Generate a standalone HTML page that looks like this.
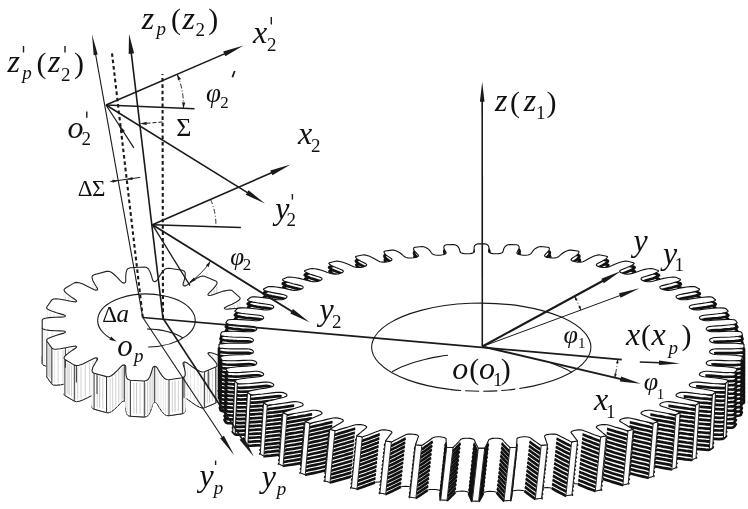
<!DOCTYPE html>
<html><head><meta charset="utf-8"><title>gear</title>
<style>html,body{margin:0;padding:0;background:#fff;}svg{display:block;filter:grayscale(1)}
text{font-family:"Liberation Serif",serif;fill:#111}</style></head><body>
<svg width="748" height="509" viewBox="0 0 748 509">
<rect width="748" height="509" fill="#fff"/>
<path d="M65.4 367.8 L64.8 367.3 L63.1 367 L60.2 366.9 L55 366.8 L49.3 366.4 L45.2 365.8 L43.1 365 L42.2 363.8 L42.2 356.2 L43.1 355 L45.2 354.2 L49.3 353.6 L55 353.2 L60.2 353.1 L63.1 353 L64.8 352.7 L65.4 352.2 L65.4 352.2 L65.2 351.6 L63.9 350.9 L61.2 350.1 L56.6 348.8 L51.6 347.1 L48.2 345.6 L46.7 344.3 L46.8 343 L51.8 335.9 L53.4 335 L56 334.8 L60.3 335.2 L65.8 336.2 L70.8 337.3 L73.7 337.8 L75.5 337.9 L76.4 337.6 L76.4 337.6 L76.6 337 L75.8 336 L73.9 334.7 L70.4 332.4 L66.8 329.6 L64.5 327.3 L64 325.8 L64.9 324.5 L74.3 318.9 L76.4 318.4 L79 318.7 L82.9 320.1 L87.7 322.4 L91.8 324.5 L94.2 325.7 L95.9 326.1 L97 326 L97 326 L97.6 325.5 L97.4 324.4 L96.4 322.7 L94.5 319.7 L92.7 316.2 L92 313.4 L92.4 311.8 L94.1 310.8 L106.5 307.4 L108.9 307.3 L111.3 308.3 L114.2 310.5 L117.5 313.6 L120.2 316.6 L121.8 318.2 L123.1 318.9 L124.3 319.1 L124.3 319.1 L125.2 318.6 L125.7 317.6 L125.8 315.7 L125.7 312.4 L126.1 308.7 L126.9 305.9 L128.2 304.4 L130.4 303.7 L144.3 303 L146.6 303.5 L148.3 304.8 L149.9 307.5 L151.3 311.2 L152.2 314.5 L152.8 316.3 L153.6 317.3 L154.7 317.6 L154.7 317.6 L155.8 317.4 L156.9 316.5 L158 314.7 L159.8 311.6 L162.2 308.1 L164.5 305.6 L166.6 304.5 L169 304.3 L182.4 306.3 L184.3 307.2 L185.2 308.8 L185.2 311.6 L184.5 315.3 L183.5 318.5 L183 320.3 L183.2 321.4 L184 321.9 L184 321.9 L185.2 321.9 L186.7 321.3 L188.7 319.9 L192.2 317.3 L196.3 314.5 L199.8 312.7 L202.3 312 L204.6 312.3 L215.7 316.9 L217 318.1 L216.9 319.7 L215.4 322.2 L212.7 325.4 L209.9 328.2 L208.4 329.7 L207.9 330.7 L208.3 331.3 L208.3 331.3 L209.4 331.5 L211.2 331.3 L213.8 330.4 L218.5 328.8 L223.7 327.1 L227.9 326.2 L230.5 326.1 L232.4 326.8 L239.7 333.3 L240.2 334.6 L239.2 336 L236.3 338 L232 340.2 L227.8 342.1 L225.5 343.2 L224.4 344 L224.4 344.6 L224.4 344.6 L225.2 345 L227 345.2 L229.9 344.9 L235.1 344.5 L240.8 344.1 L245.1 344.2 L247.5 344.7 L248.7 345.8 L251.3 353.3 L250.9 354.6 L249 355.6 L245.2 356.7 L239.8 357.7 L234.8 358.5 L232 358.9 L230.4 359.4 L230 360 L230 360 L230.4 360.6 L232 361.1 L234.8 361.5 L239.8 362.3 L245.2 363.3 L249 364.4 L250.9 365.4 L251.3 366.7 L248.7 374.2 L247.5 375.3 L245.1 375.8 L240.8 375.9 L235.1 375.5 L229.9 375.1 L227 374.8 L225.2 375 L224.4 375.4 L224.4 375.4 L224.4 376 L225.5 376.8 L227.8 377.9 L232 379.8 L236.3 382 L239.2 384 L240.2 385.4 L239.7 386.7 L232.4 393.2 L230.5 393.9 L227.9 393.8 L223.7 392.9 L218.5 391.2 L213.8 389.6 L211.2 388.7 L209.4 388.5 L208.3 388.7 L208.3 388.7 L207.9 389.3 L208.4 390.3 L209.9 391.8 L212.7 394.6 L215.4 397.8 L216.9 400.3 L217 401.9 L215.7 403.1 L204.6 407.7 L202.3 408 L199.8 407.3 L196.3 405.5 L192.2 402.7 L188.7 400.1 L186.7 398.7 L185.2 398.1 L184 398.1 L184 398.1 L183.2 398.6 L183 399.7 L183.5 401.5 L184.5 404.7 L185.2 408.4 L185.2 411.2 L184.3 412.8 L182.4 413.7 L169 415.7 L166.6 415.5 L164.5 414.4 L162.2 411.9 L159.8 408.4 L158 405.3 L156.9 403.5 L155.8 402.6 L154.7 402.4 L154.7 402.4 L153.6 402.7 L152.8 403.7 L152.2 405.5 L151.3 408.8 L149.9 412.5 L148.3 415.2 L146.6 416.5 L144.3 417 L130.4 416.3 L128.2 415.6 L126.9 414.1 L126.1 411.3 L125.7 407.6 L125.8 404.3 L125.7 402.4 L125.2 401.4 L124.3 400.9 L124.3 400.9 L123.1 401.1 L121.8 401.8 L120.2 403.4 L117.5 406.4 L114.2 409.5 L111.3 411.7 L108.9 412.7 L106.5 412.6 L94.1 409.2 L92.4 408.2 L92 406.6 L92.7 403.8 L94.5 400.3 L96.4 397.3 L97.4 395.6 L97.6 394.5 L97 394 L97 394 L95.9 393.9 L94.2 394.3 L91.8 395.5 L87.7 397.6 L82.9 399.9 L79 401.3 L76.4 401.6 L74.3 401.1 L64.9 395.5 L64 394.2 L64.5 392.7 L66.8 390.4 L70.4 387.6 L73.9 385.3 L75.8 384 L76.6 383 L76.4 382.4 L76.4 382.4 L75.5 382.1 L73.7 382.2 L70.8 382.7 L65.8 383.8 L60.3 384.8 L56 385.2 L53.4 385 L51.8 384.1 L46.8 377 L46.7 375.7 L48.2 374.4 L51.6 372.9 L56.6 371.2 L61.2 369.9 L63.9 369.1 L65.2 368.4 L65.4 367.8Z" fill="#fff" stroke="#222" stroke-width="1"/>
<path d="M185.2 275.6 L184.5 279.3 L184.5 315.3 L185.2 311.6Z" fill="#fff" stroke="#fff" stroke-width="0.5"/>
<path d="M185.2 311.6 L184.5 315.3" stroke="#222" stroke-width="1" fill="none"/>
<path d="M184.9 279.4 v32" stroke="#c4c4c4" stroke-width="0.8" fill="none"/>
<path d="M125.8 279.7 L125.7 276.4 L125.7 312.4 L125.8 315.7Z" fill="#fff" stroke="#fff" stroke-width="0.5"/>
<path d="M125.8 315.7 L125.7 312.4" stroke="#222" stroke-width="1" fill="none"/>
<path d="M125.8 280.1 v32" stroke="#e0e0e0" stroke-width="0.8" fill="none"/>
<path d="M92.7 280.2 L92 277.4 L92 313.4 L92.7 316.2Z" fill="#fff" stroke="#fff" stroke-width="0.5"/>
<path d="M92.7 316.2 L92 313.4" stroke="#222" stroke-width="1" fill="none"/>
<path d="M92.4 280.8 v32" stroke="#e0e0e0" stroke-width="0.8" fill="none"/>
<path d="M184.5 279.3 L183.5 282.5 L183.5 318.5 L184.5 315.3Z" fill="#fff" stroke="#fff" stroke-width="0.5"/>
<path d="M184.5 315.3 L183.5 318.5" stroke="#222" stroke-width="1" fill="none"/>
<path d="M184 282.9 v32" stroke="#c4c4c4" stroke-width="0.8" fill="none"/>
<path d="M94.5 283.7 L92.7 280.2 L92.7 316.2 L94.5 319.7Z" fill="#fff" stroke="#fff" stroke-width="0.5"/>
<path d="M94.5 319.7 L92.7 316.2" stroke="#222" stroke-width="1" fill="none"/>
<path d="M93.6 283.9 v32" stroke="#e0e0e0" stroke-width="0.8" fill="none"/>
<path d="M217 282.1 L216.9 283.7 L216.9 319.7 L217 318.1Z" fill="#fff" stroke="#fff" stroke-width="0.5"/>
<path d="M217 318.1 L216.9 319.7" stroke="#222" stroke-width="1" fill="none"/>
<path d="M217 284.9 v32" stroke="#c4c4c4" stroke-width="0.8" fill="none"/>
<path d="M183.5 282.5 L183 284.3 L183 320.3 L183.5 318.5Z" fill="#fff" stroke="#fff" stroke-width="0.5"/>
<path d="M183.5 318.5 L183 320.3" stroke="#222" stroke-width="1" fill="none"/>
<path d="M183.3 285.4 v32" stroke="#c4c4c4" stroke-width="0.8" fill="none"/>
<path d="M216.9 283.7 L215.4 286.2 L215.4 322.2 L216.9 319.7Z" fill="#fff" stroke="#fff" stroke-width="0.5"/>
<path d="M216.9 319.7 L215.4 322.2" stroke="#222" stroke-width="1" fill="none"/>
<path d="M216.2 287 v32" stroke="#c4c4c4" stroke-width="0.8" fill="none"/>
<path d="M96.4 286.7 L94.5 283.7 L94.5 319.7 L96.4 322.7Z" fill="#fff" stroke="#fff" stroke-width="0.5"/>
<path d="M96.4 322.7 L94.5 319.7" stroke="#222" stroke-width="1" fill="none"/>
<path d="M95.5 287.2 v32" stroke="#e0e0e0" stroke-width="0.8" fill="none"/>
<path d="M97.4 288.4 L96.4 286.7 L96.4 322.7 L97.4 324.4Z" fill="#fff" stroke="#fff" stroke-width="0.5"/>
<path d="M97.4 324.4 L96.4 322.7" stroke="#222" stroke-width="1" fill="none"/>
<path d="M96.9 289.6 v32" stroke="#e0e0e0" stroke-width="0.8" fill="none"/>
<path d="M215.4 286.2 L212.7 289.4 L212.7 325.4 L215.4 322.2Z" fill="#fff" stroke="#fff" stroke-width="0.5"/>
<path d="M215.4 322.2 L212.7 325.4" stroke="#222" stroke-width="1" fill="none"/>
<path d="M214.1 289.8 v32" stroke="#c4c4c4" stroke-width="0.8" fill="none"/>
<path d="M97.6 289.5 L97.4 288.4 L97.4 324.4 L97.6 325.5Z" fill="#fff" stroke="#fff" stroke-width="0.5"/>
<path d="M97.6 325.5 L97.4 324.4" stroke="#222" stroke-width="1" fill="none"/>
<path d="M97.5 290.9 v32" stroke="#e0e0e0" stroke-width="0.8" fill="none"/>
<path d="M64.5 291.3 L64 289.8 L64 325.8 L64.5 327.3Z" fill="#fff" stroke="#fff" stroke-width="0.5"/>
<path d="M64.5 327.3 L64 325.8" stroke="#222" stroke-width="1" fill="none"/>
<path d="M64.2 292.5 v32" stroke="#e0e0e0" stroke-width="0.8" fill="none"/>
<path d="M212.7 289.4 L209.9 292.2 L209.9 328.2 L212.7 325.4Z" fill="#fff" stroke="#fff" stroke-width="0.5"/>
<path d="M212.7 325.4 L209.9 328.2" stroke="#222" stroke-width="1" fill="none"/>
<path d="M211.3 292.8 v32" stroke="#c4c4c4" stroke-width="0.8" fill="none"/>
<path d="M66.8 293.6 L64.5 291.3 L64.5 327.3 L66.8 329.6Z" fill="#fff" stroke="#fff" stroke-width="0.5"/>
<path d="M66.8 329.6 L64.5 327.3" stroke="#222" stroke-width="1" fill="none"/>
<path d="M65.6 294.5 v32" stroke="#e0e0e0" stroke-width="0.8" fill="none"/>
<path d="M209.9 292.2 L208.4 293.7 L208.4 329.7 L209.9 328.2Z" fill="#fff" stroke="#fff" stroke-width="0.5"/>
<path d="M209.9 328.2 L208.4 329.7" stroke="#222" stroke-width="1" fill="none"/>
<path d="M209.2 294.9 v32" stroke="#c4c4c4" stroke-width="0.8" fill="none"/>
<path d="M208.4 293.7 L207.9 294.7 L207.9 330.7 L208.4 329.7Z" fill="#fff" stroke="#fff" stroke-width="0.5"/>
<path d="M208.4 329.7 L207.9 330.7" stroke="#222" stroke-width="1" fill="none"/>
<path d="M208.2 296.2 v32" stroke="#c4c4c4" stroke-width="0.8" fill="none"/>
<path d="M70.4 296.4 L66.8 293.6 L66.8 329.6 L70.4 332.4Z" fill="#fff" stroke="#fff" stroke-width="0.5"/>
<path d="M70.4 332.4 L66.8 329.6" stroke="#222" stroke-width="1" fill="none"/>
<path d="M68.6 297 v32" stroke="#e0e0e0" stroke-width="0.8" fill="none"/>
<path d="M73.9 298.7 L70.4 296.4 L70.4 332.4 L73.9 334.7Z" fill="#fff" stroke="#fff" stroke-width="0.5"/>
<path d="M73.9 334.7 L70.4 332.4" stroke="#222" stroke-width="1" fill="none"/>
<path d="M72.1 299.5 v32" stroke="#e0e0e0" stroke-width="0.8" fill="none"/>
<path d="M240.2 298.6 L239.2 300 L239.2 336 L240.2 334.6Z" fill="#fff" stroke="#fff" stroke-width="0.5"/>
<path d="M240.2 334.6 L239.2 336" stroke="#222" stroke-width="1" fill="none"/>
<path d="M239.7 301.3 v32" stroke="#c4c4c4" stroke-width="0.8" fill="none"/>
<path d="M75.8 300 L73.9 298.7 L73.9 334.7 L75.8 336Z" fill="#fff" stroke="#fff" stroke-width="0.5"/>
<path d="M75.8 336 L73.9 334.7" stroke="#222" stroke-width="1" fill="none"/>
<path d="M74.9 301.4 v32" stroke="#e0e0e0" stroke-width="0.8" fill="none"/>
<path d="M76.6 301 L75.8 300 L75.8 336 L76.6 337Z" fill="#fff" stroke="#fff" stroke-width="0.5"/>
<path d="M76.6 337 L75.8 336" stroke="#222" stroke-width="1" fill="none"/>
<path d="M76.2 302.5 v32" stroke="#e0e0e0" stroke-width="0.8" fill="none"/>
<path d="M239.2 300 L236.3 302 L236.3 338 L239.2 336Z" fill="#fff" stroke="#fff" stroke-width="0.5"/>
<path d="M239.2 336 L236.3 338" stroke="#222" stroke-width="1" fill="none"/>
<path d="M237.8 303 v32" stroke="#c4c4c4" stroke-width="0.8" fill="none"/>
<path d="M236.3 302 L232 304.2 L232 340.2 L236.3 338Z" fill="#fff" stroke="#fff" stroke-width="0.5"/>
<path d="M236.3 338 L232 340.2" stroke="#222" stroke-width="1" fill="none"/>
<path d="M234.2 305.1 v32" stroke="#c4c4c4" stroke-width="0.8" fill="none"/>
<path d="M232 304.2 L227.8 306.1 L227.8 342.1 L232 340.2Z" fill="#fff" stroke="#fff" stroke-width="0.5"/>
<path d="M232 340.2 L227.8 342.1" stroke="#222" stroke-width="1" fill="none"/>
<path d="M229.9 307.2 v32" stroke="#c4c4c4" stroke-width="0.8" fill="none"/>
<path d="M227.8 306.1 L225.5 307.2 L225.5 343.2 L227.8 342.1Z" fill="#fff" stroke="#fff" stroke-width="0.5"/>
<path d="M227.8 342.1 L225.5 343.2" stroke="#222" stroke-width="1" fill="none"/>
<path d="M226.6 308.7 v32" stroke="#c4c4c4" stroke-width="0.8" fill="none"/>
<path d="M225.5 307.2 L224.4 308 L224.4 344 L225.5 343.2Z" fill="#fff" stroke="#fff" stroke-width="0.5"/>
<path d="M225.5 343.2 L224.4 344" stroke="#222" stroke-width="1" fill="none"/>
<path d="M224.9 309.6 v32" stroke="#c4c4c4" stroke-width="0.8" fill="none"/>
<path d="M224.4 308 L224.4 308.6 L224.4 344.6 L224.4 344Z" fill="#fff" stroke="#fff" stroke-width="0.5"/>
<path d="M224.4 344 L224.4 344.6" stroke="#222" stroke-width="1" fill="none"/>
<path d="M224.4 310.3 v32" stroke="#c4c4c4" stroke-width="0.8" fill="none"/>
<path d="M48.2 309.6 L46.7 308.3 L46.7 344.3 L48.2 345.6Z" fill="#fff" stroke="#fff" stroke-width="0.5"/>
<path d="M48.2 345.6 L46.7 344.3" stroke="#222" stroke-width="1" fill="none"/>
<path d="M47.5 311 v32" stroke="#e0e0e0" stroke-width="0.8" fill="none"/>
<path d="M51.6 311.1 L48.2 309.6 L48.2 345.6 L51.6 347.1Z" fill="#fff" stroke="#fff" stroke-width="0.5"/>
<path d="M51.6 347.1 L48.2 345.6" stroke="#222" stroke-width="1" fill="none"/>
<path d="M49.9 312.4 v32" stroke="#e0e0e0" stroke-width="0.8" fill="none"/>
<path d="M56.6 312.8 L51.6 311.1 L51.6 347.1 L56.6 348.8Z" fill="#fff" stroke="#fff" stroke-width="0.5"/>
<path d="M56.6 348.8 L51.6 347.1" stroke="#222" stroke-width="1" fill="none"/>
<path d="M54.1 314 v32" stroke="#e0e0e0" stroke-width="0.8" fill="none"/>
<path d="M61.2 314.1 L56.6 312.8 L56.6 348.8 L61.2 350.1Z" fill="#fff" stroke="#fff" stroke-width="0.5"/>
<path d="M61.2 350.1 L56.6 348.8" stroke="#222" stroke-width="1" fill="none"/>
<path d="M58.9 315.5 v32" stroke="#e0e0e0" stroke-width="0.8" fill="none"/>
<path d="M63.9 314.9 L61.2 314.1 L61.2 350.1 L63.9 350.9Z" fill="#fff" stroke="#fff" stroke-width="0.5"/>
<path d="M63.9 350.9 L61.2 350.1" stroke="#222" stroke-width="1" fill="none"/>
<path d="M62.6 316.5 v32" stroke="#e0e0e0" stroke-width="0.8" fill="none"/>
<path d="M65.2 315.6 L63.9 314.9 L63.9 350.9 L65.2 351.6Z" fill="#fff" stroke="#fff" stroke-width="0.5"/>
<path d="M65.2 351.6 L63.9 350.9" stroke="#222" stroke-width="1" fill="none"/>
<path d="M64.5 317.3 v32" stroke="#e0e0e0" stroke-width="0.8" fill="none"/>
<path d="M65.4 316.2 L65.2 315.6 L65.2 351.6 L65.4 352.2Z" fill="#fff" stroke="#fff" stroke-width="0.5"/>
<path d="M65.4 352.2 L65.2 351.6" stroke="#222" stroke-width="1" fill="none"/>
<path d="M65.3 317.9 v32" stroke="#e0e0e0" stroke-width="0.8" fill="none"/>
<path d="M251.3 317.3 L250.9 318.6 L250.9 354.6 L251.3 353.3Z" fill="#fff" stroke="#fff" stroke-width="0.5"/>
<path d="M251.3 353.3 L250.9 354.6" stroke="#222" stroke-width="1" fill="none"/>
<path d="M251.1 319.9 v32" stroke="#c4c4c4" stroke-width="0.8" fill="none"/>
<path d="M250.9 318.6 L249 319.6 L249 355.6 L250.9 354.6Z" fill="#fff" stroke="#fff" stroke-width="0.5"/>
<path d="M250.9 354.6 L249 355.6" stroke="#222" stroke-width="1" fill="none"/>
<path d="M249.9 321.1 v32" stroke="#c4c4c4" stroke-width="0.8" fill="none"/>
<path d="M249 319.6 L245.2 320.7 L245.2 356.7 L249 355.6Z" fill="#fff" stroke="#fff" stroke-width="0.5"/>
<path d="M249 355.6 L245.2 356.7" stroke="#222" stroke-width="1" fill="none"/>
<path d="M247.1 322.2 v32" stroke="#c4c4c4" stroke-width="0.8" fill="none"/>
<path d="M245.2 320.7 L239.8 321.7 L239.8 357.7 L245.2 356.7Z" fill="#fff" stroke="#fff" stroke-width="0.5"/>
<path d="M245.2 356.7 L239.8 357.7" stroke="#222" stroke-width="1" fill="none"/>
<path d="M242.5 323.2 v32" stroke="#c4c4c4" stroke-width="0.8" fill="none"/>
<path d="M239.8 321.7 L234.8 322.5 L234.8 358.5 L239.8 357.7Z" fill="#fff" stroke="#fff" stroke-width="0.5"/>
<path d="M239.8 357.7 L234.8 358.5" stroke="#222" stroke-width="1" fill="none"/>
<path d="M237.3 324.1 v32" stroke="#c4c4c4" stroke-width="0.8" fill="none"/>
<path d="M234.8 322.5 L232 322.9 L232 358.9 L234.8 358.5Z" fill="#fff" stroke="#fff" stroke-width="0.5"/>
<path d="M234.8 358.5 L232 358.9" stroke="#222" stroke-width="1" fill="none"/>
<path d="M233.4 324.7 v32" stroke="#c4c4c4" stroke-width="0.8" fill="none"/>
<path d="M232 322.9 L230.4 323.4 L230.4 359.4 L232 358.9Z" fill="#fff" stroke="#fff" stroke-width="0.5"/>
<path d="M232 358.9 L230.4 359.4" stroke="#222" stroke-width="1" fill="none"/>
<path d="M231.2 325.2 v32" stroke="#c4c4c4" stroke-width="0.8" fill="none"/>
<path d="M230.4 323.4 L230 324 L230 360 L230.4 359.4Z" fill="#fff" stroke="#fff" stroke-width="0.5"/>
<path d="M230.4 359.4 L230 360" stroke="#222" stroke-width="1" fill="none"/>
<path d="M230.2 325.7 v32" stroke="#c4c4c4" stroke-width="0.8" fill="none"/>
<path d="M43.1 329 L42.2 327.8 L42.2 363.8 L43.1 365Z" fill="#fff" stroke="#fff" stroke-width="0.5"/>
<path d="M43.1 365 L42.2 363.8" stroke="#222" stroke-width="1" fill="none"/>
<path d="M42.7 330.4 v32" stroke="#e0e0e0" stroke-width="0.8" fill="none"/>
<path d="M45.2 329.8 L43.1 329 L43.1 365 L45.2 365.8Z" fill="#fff" stroke="#fff" stroke-width="0.5"/>
<path d="M45.2 365.8 L43.1 365" stroke="#222" stroke-width="1" fill="none"/>
<path d="M44.1 331.4 v32" stroke="#e0e0e0" stroke-width="0.8" fill="none"/>
<path d="M49.3 330.4 L45.2 329.8 L45.2 365.8 L49.3 366.4Z" fill="#fff" stroke="#fff" stroke-width="0.5"/>
<path d="M49.3 366.4 L45.2 365.8" stroke="#222" stroke-width="1" fill="none"/>
<path d="M47.3 332.1 v32" stroke="#e0e0e0" stroke-width="0.8" fill="none"/>
<path d="M55 330.8 L49.3 330.4 L49.3 366.4 L55 366.8Z" fill="#fff" stroke="#fff" stroke-width="0.5"/>
<path d="M55 366.8 L49.3 366.4" stroke="#222" stroke-width="1" fill="none"/>
<path d="M52.2 332.6 v32" stroke="#e0e0e0" stroke-width="0.8" fill="none"/>
<path d="M60.2 330.9 L55 330.8 L55 366.8 L60.2 366.9Z" fill="#fff" stroke="#fff" stroke-width="0.5"/>
<path d="M60.2 366.9 L55 366.8" stroke="#222" stroke-width="1" fill="none"/>
<path d="M57.6 332.8 v32" stroke="#e0e0e0" stroke-width="0.8" fill="none"/>
<path d="M63.1 331 L60.2 330.9 L60.2 366.9 L63.1 367Z" fill="#fff" stroke="#fff" stroke-width="0.5"/>
<path d="M63.1 367 L60.2 366.9" stroke="#222" stroke-width="1" fill="none"/>
<path d="M61.6 333 v32" stroke="#e0e0e0" stroke-width="0.8" fill="none"/>
<path d="M64.8 331.3 L63.1 331 L63.1 367 L64.8 367.3Z" fill="#fff" stroke="#fff" stroke-width="0.5"/>
<path d="M64.8 367.3 L63.1 367" stroke="#222" stroke-width="1" fill="none"/>
<path d="M64 333.2 v32" stroke="#e0e0e0" stroke-width="0.8" fill="none"/>
<path d="M65.4 331.8 L64.8 331.3 L64.8 367.3 L65.4 367.8Z" fill="#fff" stroke="#fff" stroke-width="0.5"/>
<path d="M65.4 367.8 L64.8 367.3" stroke="#222" stroke-width="1" fill="none"/>
<path d="M65.1 333.6 v32" stroke="#e0e0e0" stroke-width="0.8" fill="none"/>
<path d="M251.3 330.7 L248.7 338.2 L248.7 374.2 L251.3 366.7Z" fill="#fff" stroke="#fff" stroke-width="0.5"/>
<path d="M251.3 366.7 L248.7 374.2" stroke="#222" stroke-width="1" fill="none"/>
<path d="M250.5 335 v31" stroke="#ccc" stroke-width="0.9" fill="none"/>
<path d="M249.9 336.8 v31" stroke="#bbb" stroke-width="0.9" fill="none"/>
<path d="M249.3 338.3 v31" stroke="#ccc" stroke-width="0.9" fill="none"/>
<path d="M227 338.8 L225.2 339 L225.2 375 L227 374.8Z" fill="#fff" stroke="#fff" stroke-width="0.5"/>
<path d="M227 374.8 L225.2 375" stroke="#222" stroke-width="1" fill="none"/>
<path d="M226.1 340.9 v32" stroke="#c4c4c4" stroke-width="0.8" fill="none"/>
<path d="M229.9 339.1 L227 338.8 L227 374.8 L229.9 375.1Z" fill="#fff" stroke="#fff" stroke-width="0.5"/>
<path d="M229.9 375.1 L227 374.8" stroke="#222" stroke-width="1" fill="none"/>
<path d="M228.4 340.9 v32" stroke="#e0e0e0" stroke-width="0.8" fill="none"/>
<path d="M248.7 338.2 L247.5 339.3 L247.5 375.3 L248.7 374.2Z" fill="#fff" stroke="#fff" stroke-width="0.5"/>
<path d="M248.7 374.2 L247.5 375.3" stroke="#222" stroke-width="1" fill="none"/>
<path d="M248.1 340.7 v32" stroke="#c4c4c4" stroke-width="0.8" fill="none"/>
<path d="M225.2 339 L224.4 339.4 L224.4 375.4 L225.2 375Z" fill="#fff" stroke="#fff" stroke-width="0.5"/>
<path d="M225.2 375 L224.4 375.4" stroke="#222" stroke-width="1" fill="none"/>
<path d="M224.8 341.2 v32" stroke="#c4c4c4" stroke-width="0.8" fill="none"/>
<path d="M235.1 339.5 L229.9 339.1 L229.9 375.1 L235.1 375.5Z" fill="#fff" stroke="#fff" stroke-width="0.5"/>
<path d="M235.1 375.5 L229.9 375.1" stroke="#222" stroke-width="1" fill="none"/>
<path d="M232.5 341.3 v32" stroke="#e0e0e0" stroke-width="0.8" fill="none"/>
<path d="M247.5 339.3 L245.1 339.8 L245.1 375.8 L247.5 375.3Z" fill="#fff" stroke="#fff" stroke-width="0.5"/>
<path d="M247.5 375.3 L245.1 375.8" stroke="#222" stroke-width="1" fill="none"/>
<path d="M246.3 341.5 v32" stroke="#c4c4c4" stroke-width="0.8" fill="none"/>
<path d="M245.1 339.8 L240.8 339.9 L240.8 375.9 L245.1 375.8Z" fill="#fff" stroke="#fff" stroke-width="0.5"/>
<path d="M245.1 375.8 L240.8 375.9" stroke="#222" stroke-width="1" fill="none"/>
<path d="M242.9 341.8 v32" stroke="#c4c4c4" stroke-width="0.8" fill="none"/>
<path d="M240.8 339.9 L235.1 339.5 L235.1 375.5 L240.8 375.9Z" fill="#fff" stroke="#fff" stroke-width="0.5"/>
<path d="M240.8 375.9 L235.1 375.5" stroke="#222" stroke-width="1" fill="none"/>
<path d="M237.9 341.7 v32" stroke="#e0e0e0" stroke-width="0.8" fill="none"/>
<path d="M46.8 341 L46.7 339.7 L46.7 375.7 L46.8 377Z" fill="#fff" stroke="#fff" stroke-width="0.5"/>
<path d="M46.8 377 L46.7 375.7" stroke="#222" stroke-width="1" fill="none"/>
<path d="M46.8 342.3 v32" stroke="#e0e0e0" stroke-width="0.8" fill="none"/>
<path d="M75.5 346.1 L73.7 346.2 L73.7 382.2 L75.5 382.1Z" fill="#fff" stroke="#fff" stroke-width="0.5"/>
<path d="M75.5 382.1 L73.7 382.2" stroke="#222" stroke-width="1" fill="none"/>
<path d="M74.6 348.1 v32" stroke="#c4c4c4" stroke-width="0.8" fill="none"/>
<path d="M76.4 346.4 L75.5 346.1 L75.5 382.1 L76.4 382.4Z" fill="#fff" stroke="#fff" stroke-width="0.5"/>
<path d="M76.4 382.4 L75.5 382.1" stroke="#222" stroke-width="1" fill="none"/>
<path d="M76 348.2 v32" stroke="#e0e0e0" stroke-width="0.8" fill="none"/>
<path d="M73.7 346.2 L70.8 346.7 L70.8 382.7 L73.7 382.2Z" fill="#fff" stroke="#fff" stroke-width="0.5"/>
<path d="M73.7 382.2 L70.8 382.7" stroke="#222" stroke-width="1" fill="none"/>
<path d="M72.3 348.4 v32" stroke="#c4c4c4" stroke-width="0.8" fill="none"/>
<path d="M76.6 347 L76.4 346.4 L76.4 382.4 L76.6 383Z" fill="#fff" stroke="#fff" stroke-width="0.5"/>
<path d="M76.6 383 L76.4 382.4" stroke="#222" stroke-width="1" fill="none"/>
<path d="M76.5 348.7 v32" stroke="#e0e0e0" stroke-width="0.8" fill="none"/>
<path d="M70.8 346.7 L65.8 347.8 L65.8 383.8 L70.8 382.7Z" fill="#fff" stroke="#fff" stroke-width="0.5"/>
<path d="M70.8 382.7 L65.8 383.8" stroke="#222" stroke-width="1" fill="none"/>
<path d="M68.3 349.3 v32" stroke="#c4c4c4" stroke-width="0.8" fill="none"/>
<path d="M51.8 348.1 L46.8 341 L46.8 377 L51.8 384.1Z" fill="#fff" stroke="#fff" stroke-width="0.5"/>
<path d="M51.8 384.1 L46.8 377" stroke="#222" stroke-width="1" fill="none"/>
<path d="M50.3 348 v31" stroke="#ccc" stroke-width="0.9" fill="none"/>
<path d="M49.1 346.2 v31" stroke="#bbb" stroke-width="0.9" fill="none"/>
<path d="M48 344.8 v31" stroke="#ccc" stroke-width="0.9" fill="none"/>
<path d="M65.8 347.8 L60.3 348.8 L60.3 384.8 L65.8 383.8Z" fill="#fff" stroke="#fff" stroke-width="0.5"/>
<path d="M65.8 383.8 L60.3 384.8" stroke="#222" stroke-width="1" fill="none"/>
<path d="M63 350.3 v32" stroke="#c4c4c4" stroke-width="0.8" fill="none"/>
<path d="M53.4 349 L51.8 348.1 L51.8 384.1 L53.4 385Z" fill="#fff" stroke="#fff" stroke-width="0.5"/>
<path d="M53.4 385 L51.8 384.1" stroke="#222" stroke-width="1" fill="none"/>
<path d="M52.6 350.5 v32" stroke="#e0e0e0" stroke-width="0.8" fill="none"/>
<path d="M60.3 348.8 L56 349.2 L56 385.2 L60.3 384.8Z" fill="#fff" stroke="#fff" stroke-width="0.5"/>
<path d="M60.3 384.8 L56 385.2" stroke="#222" stroke-width="1" fill="none"/>
<path d="M58.1 351 v32" stroke="#c4c4c4" stroke-width="0.8" fill="none"/>
<path d="M56 349.2 L53.4 349 L53.4 385 L56 385.2Z" fill="#fff" stroke="#fff" stroke-width="0.5"/>
<path d="M56 385.2 L53.4 385" stroke="#222" stroke-width="1" fill="none"/>
<path d="M54.7 351.1 v32" stroke="#e0e0e0" stroke-width="0.8" fill="none"/>
<path d="M240.2 349.4 L239.7 350.7 L239.7 386.7 L240.2 385.4Z" fill="#fff" stroke="#fff" stroke-width="0.5"/>
<path d="M240.2 385.4 L239.7 386.7" stroke="#222" stroke-width="1" fill="none"/>
<path d="M240 352.1 v32" stroke="#c4c4c4" stroke-width="0.8" fill="none"/>
<path d="M209.4 352.5 L208.3 352.7 L208.3 388.7 L209.4 388.5Z" fill="#fff" stroke="#fff" stroke-width="0.5"/>
<path d="M209.4 388.5 L208.3 388.7" stroke="#222" stroke-width="1" fill="none"/>
<path d="M208.9 354.6 v32" stroke="#c4c4c4" stroke-width="0.8" fill="none"/>
<path d="M211.2 352.7 L209.4 352.5 L209.4 388.5 L211.2 388.7Z" fill="#fff" stroke="#fff" stroke-width="0.5"/>
<path d="M211.2 388.7 L209.4 388.5" stroke="#222" stroke-width="1" fill="none"/>
<path d="M210.3 354.6 v32" stroke="#e0e0e0" stroke-width="0.8" fill="none"/>
<path d="M208.3 352.7 L207.9 353.3 L207.9 389.3 L208.3 388.7Z" fill="#fff" stroke="#fff" stroke-width="0.5"/>
<path d="M208.3 388.7 L207.9 389.3" stroke="#222" stroke-width="1" fill="none"/>
<path d="M208.1 355 v32" stroke="#c4c4c4" stroke-width="0.8" fill="none"/>
<path d="M213.8 353.6 L211.2 352.7 L211.2 388.7 L213.8 389.6Z" fill="#fff" stroke="#fff" stroke-width="0.5"/>
<path d="M213.8 389.6 L211.2 388.7" stroke="#222" stroke-width="1" fill="none"/>
<path d="M212.5 355.2 v32" stroke="#e0e0e0" stroke-width="0.8" fill="none"/>
<path d="M218.5 355.2 L213.8 353.6 L213.8 389.6 L218.5 391.2Z" fill="#fff" stroke="#fff" stroke-width="0.5"/>
<path d="M218.5 391.2 L213.8 389.6" stroke="#222" stroke-width="1" fill="none"/>
<path d="M216.2 356.4 v32" stroke="#e0e0e0" stroke-width="0.8" fill="none"/>
<path d="M223.7 356.9 L218.5 355.2 L218.5 391.2 L223.7 392.9Z" fill="#fff" stroke="#fff" stroke-width="0.5"/>
<path d="M223.7 392.9 L218.5 391.2" stroke="#222" stroke-width="1" fill="none"/>
<path d="M221.1 358.1 v32" stroke="#e0e0e0" stroke-width="0.8" fill="none"/>
<path d="M239.7 350.7 L232.4 357.2 L232.4 393.2 L239.7 386.7Z" fill="#fff" stroke="#fff" stroke-width="0.5"/>
<path d="M239.7 386.7 L232.4 393.2" stroke="#222" stroke-width="1" fill="none"/>
<path d="M237.5 354.7 v31" stroke="#ccc" stroke-width="0.9" fill="none"/>
<path d="M235.7 356.3 v31" stroke="#bbb" stroke-width="0.9" fill="none"/>
<path d="M234.2 357.6 v31" stroke="#ccc" stroke-width="0.9" fill="none"/>
<path d="M227.9 357.8 L223.7 356.9 L223.7 392.9 L227.9 393.8Z" fill="#fff" stroke="#fff" stroke-width="0.5"/>
<path d="M227.9 393.8 L223.7 392.9" stroke="#222" stroke-width="1" fill="none"/>
<path d="M225.8 359.4 v32" stroke="#e0e0e0" stroke-width="0.8" fill="none"/>
<path d="M232.4 357.2 L230.5 357.9 L230.5 393.9 L232.4 393.2Z" fill="#fff" stroke="#fff" stroke-width="0.5"/>
<path d="M232.4 393.2 L230.5 393.9" stroke="#222" stroke-width="1" fill="none"/>
<path d="M231.4 359.5 v32" stroke="#c4c4c4" stroke-width="0.8" fill="none"/>
<path d="M230.5 357.9 L227.9 357.8 L227.9 393.8 L230.5 393.9Z" fill="#fff" stroke="#fff" stroke-width="0.5"/>
<path d="M230.5 393.9 L227.9 393.8" stroke="#222" stroke-width="1" fill="none"/>
<path d="M229.2 359.9 v32" stroke="#e0e0e0" stroke-width="0.8" fill="none"/>
<path d="M97 358 L95.9 357.9 L95.9 393.9 L97 394Z" fill="#fff" stroke="#fff" stroke-width="0.5"/>
<path d="M97 394 L95.9 393.9" stroke="#222" stroke-width="1" fill="none"/>
<path d="M96.4 359.9 v32" stroke="#e0e0e0" stroke-width="0.8" fill="none"/>
<path d="M95.9 357.9 L94.2 358.3 L94.2 394.3 L95.9 393.9Z" fill="#fff" stroke="#fff" stroke-width="0.5"/>
<path d="M95.9 393.9 L94.2 394.3" stroke="#222" stroke-width="1" fill="none"/>
<path d="M95 360.1 v32" stroke="#c4c4c4" stroke-width="0.8" fill="none"/>
<path d="M97.6 358.5 L97 358 L97 394 L97.6 394.5Z" fill="#fff" stroke="#fff" stroke-width="0.5"/>
<path d="M97.6 394.5 L97 394" stroke="#222" stroke-width="1" fill="none"/>
<path d="M97.3 360.2 v32" stroke="#e0e0e0" stroke-width="0.8" fill="none"/>
<path d="M94.2 358.3 L91.8 359.5 L91.8 395.5 L94.2 394.3Z" fill="#fff" stroke="#fff" stroke-width="0.5"/>
<path d="M94.2 394.3 L91.8 395.5" stroke="#222" stroke-width="1" fill="none"/>
<path d="M93 360.9 v32" stroke="#c4c4c4" stroke-width="0.8" fill="none"/>
<path d="M64.9 359.5 L64 358.2 L64 394.2 L64.9 395.5Z" fill="#fff" stroke="#fff" stroke-width="0.5"/>
<path d="M64.9 395.5 L64 394.2" stroke="#222" stroke-width="1" fill="none"/>
<path d="M64.4 360.9 v32" stroke="#e0e0e0" stroke-width="0.8" fill="none"/>
<path d="M91.8 359.5 L87.7 361.6 L87.7 397.6 L91.8 395.5Z" fill="#fff" stroke="#fff" stroke-width="0.5"/>
<path d="M91.8 395.5 L87.7 397.6" stroke="#222" stroke-width="1" fill="none"/>
<path d="M89.7 362.5 v32" stroke="#c4c4c4" stroke-width="0.8" fill="none"/>
<path d="M185.2 362.1 L184 362.1 L184 398.1 L185.2 398.1Z" fill="#fff" stroke="#fff" stroke-width="0.5"/>
<path d="M185.2 398.1 L184 398.1" stroke="#222" stroke-width="1" fill="none"/>
<path d="M184.6 364.1 v32" stroke="#c4c4c4" stroke-width="0.8" fill="none"/>
<path d="M184 362.1 L183.2 362.6 L183.2 398.6 L184 398.1Z" fill="#fff" stroke="#fff" stroke-width="0.5"/>
<path d="M184 398.1 L183.2 398.6" stroke="#222" stroke-width="1" fill="none"/>
<path d="M183.6 364.3 v32" stroke="#c4c4c4" stroke-width="0.8" fill="none"/>
<path d="M186.7 362.7 L185.2 362.1 L185.2 398.1 L186.7 398.7Z" fill="#fff" stroke="#fff" stroke-width="0.5"/>
<path d="M186.7 398.7 L185.2 398.1" stroke="#222" stroke-width="1" fill="none"/>
<path d="M185.9 364.4 v32" stroke="#e0e0e0" stroke-width="0.8" fill="none"/>
<path d="M183.2 362.6 L183 363.7 L183 399.7 L183.2 398.6Z" fill="#fff" stroke="#fff" stroke-width="0.5"/>
<path d="M183.2 398.6 L183 399.7" stroke="#222" stroke-width="1" fill="none"/>
<path d="M183.1 365.1 v32" stroke="#c4c4c4" stroke-width="0.8" fill="none"/>
<path d="M87.7 361.6 L82.9 363.9 L82.9 399.9 L87.7 397.6Z" fill="#fff" stroke="#fff" stroke-width="0.5"/>
<path d="M87.7 397.6 L82.9 399.9" stroke="#222" stroke-width="1" fill="none"/>
<path d="M85.3 364.7 v32" stroke="#c4c4c4" stroke-width="0.8" fill="none"/>
<path d="M188.7 364.1 L186.7 362.7 L186.7 398.7 L188.7 400.1Z" fill="#fff" stroke="#fff" stroke-width="0.5"/>
<path d="M188.7 400.1 L186.7 398.7" stroke="#222" stroke-width="1" fill="none"/>
<path d="M187.7 365.4 v32" stroke="#e0e0e0" stroke-width="0.8" fill="none"/>
<path d="M124.3 364.9 L123.1 365.1 L123.1 401.1 L124.3 400.9Z" fill="#fff" stroke="#fff" stroke-width="0.5"/>
<path d="M124.3 400.9 L123.1 401.1" stroke="#222" stroke-width="1" fill="none"/>
<path d="M123.7 367 v32" stroke="#c4c4c4" stroke-width="0.8" fill="none"/>
<path d="M74.3 365.1 L64.9 359.5 L64.9 395.5 L74.3 401.1Z" fill="#fff" stroke="#fff" stroke-width="0.5"/>
<path d="M74.3 401.1 L64.9 395.5" stroke="#222" stroke-width="1" fill="none"/>
<path d="M71.5 365.4 v31" stroke="#ccc" stroke-width="0.9" fill="none"/>
<path d="M69.1 364 v31" stroke="#bbb" stroke-width="0.9" fill="none"/>
<path d="M67.2 362.9 v31" stroke="#ccc" stroke-width="0.9" fill="none"/>
<path d="M82.9 363.9 L79 365.3 L79 401.3 L82.9 399.9Z" fill="#fff" stroke="#fff" stroke-width="0.5"/>
<path d="M82.9 399.9 L79 401.3" stroke="#222" stroke-width="1" fill="none"/>
<path d="M81 366.6 v32" stroke="#c4c4c4" stroke-width="0.8" fill="none"/>
<path d="M125.2 365.4 L124.3 364.9 L124.3 400.9 L125.2 401.4Z" fill="#fff" stroke="#fff" stroke-width="0.5"/>
<path d="M125.2 401.4 L124.3 400.9" stroke="#222" stroke-width="1" fill="none"/>
<path d="M124.7 367.1 v32" stroke="#e0e0e0" stroke-width="0.8" fill="none"/>
<path d="M79 365.3 L76.4 365.6 L76.4 401.6 L79 401.3Z" fill="#fff" stroke="#fff" stroke-width="0.5"/>
<path d="M79 401.3 L76.4 401.6" stroke="#222" stroke-width="1" fill="none"/>
<path d="M77.7 367.5 v32" stroke="#c4c4c4" stroke-width="0.8" fill="none"/>
<path d="M76.4 365.6 L74.3 365.1 L74.3 401.1 L76.4 401.6Z" fill="#fff" stroke="#fff" stroke-width="0.5"/>
<path d="M76.4 401.6 L74.3 401.1" stroke="#222" stroke-width="1" fill="none"/>
<path d="M75.4 367.4 v32" stroke="#e0e0e0" stroke-width="0.8" fill="none"/>
<path d="M123.1 365.1 L121.8 365.8 L121.8 401.8 L123.1 401.1Z" fill="#fff" stroke="#fff" stroke-width="0.5"/>
<path d="M123.1 401.1 L121.8 401.8" stroke="#222" stroke-width="1" fill="none"/>
<path d="M122.5 367.4 v32" stroke="#c4c4c4" stroke-width="0.8" fill="none"/>
<path d="M125.7 366.4 L125.2 365.4 L125.2 401.4 L125.7 402.4Z" fill="#fff" stroke="#fff" stroke-width="0.5"/>
<path d="M125.7 402.4 L125.2 401.4" stroke="#222" stroke-width="1" fill="none"/>
<path d="M125.5 367.9 v32" stroke="#e0e0e0" stroke-width="0.8" fill="none"/>
<path d="M155.8 366.6 L154.7 366.4 L154.7 402.4 L155.8 402.6Z" fill="#fff" stroke="#fff" stroke-width="0.5"/>
<path d="M155.8 402.6 L154.7 402.4" stroke="#222" stroke-width="1" fill="none"/>
<path d="M155.2 368.5 v32" stroke="#e0e0e0" stroke-width="0.8" fill="none"/>
<path d="M154.7 366.4 L153.6 366.7 L153.6 402.7 L154.7 402.4Z" fill="#fff" stroke="#fff" stroke-width="0.5"/>
<path d="M154.7 402.4 L153.6 402.7" stroke="#222" stroke-width="1" fill="none"/>
<path d="M154.1 368.5 v32" stroke="#c4c4c4" stroke-width="0.8" fill="none"/>
<path d="M192.2 366.7 L188.7 364.1 L188.7 400.1 L192.2 402.7Z" fill="#fff" stroke="#fff" stroke-width="0.5"/>
<path d="M192.2 402.7 L188.7 400.1" stroke="#222" stroke-width="1" fill="none"/>
<path d="M190.5 367.4 v32" stroke="#e0e0e0" stroke-width="0.8" fill="none"/>
<path d="M217 365.9 L215.7 367.1 L215.7 403.1 L217 401.9Z" fill="#fff" stroke="#fff" stroke-width="0.5"/>
<path d="M217 401.9 L215.7 403.1" stroke="#222" stroke-width="1" fill="none"/>
<path d="M216.4 368.5 v32" stroke="#c4c4c4" stroke-width="0.8" fill="none"/>
<path d="M121.8 365.8 L120.2 367.4 L120.2 403.4 L121.8 401.8Z" fill="#fff" stroke="#fff" stroke-width="0.5"/>
<path d="M121.8 401.8 L120.2 403.4" stroke="#222" stroke-width="1" fill="none"/>
<path d="M121 368.6 v32" stroke="#c4c4c4" stroke-width="0.8" fill="none"/>
<path d="M156.9 367.5 L155.8 366.6 L155.8 402.6 L156.9 403.5Z" fill="#fff" stroke="#fff" stroke-width="0.5"/>
<path d="M156.9 403.5 L155.8 402.6" stroke="#222" stroke-width="1" fill="none"/>
<path d="M156.3 369.1 v32" stroke="#e0e0e0" stroke-width="0.8" fill="none"/>
<path d="M153.6 366.7 L152.8 367.7 L152.8 403.7 L153.6 402.7Z" fill="#fff" stroke="#fff" stroke-width="0.5"/>
<path d="M153.6 402.7 L152.8 403.7" stroke="#222" stroke-width="1" fill="none"/>
<path d="M153.2 369.2 v32" stroke="#c4c4c4" stroke-width="0.8" fill="none"/>
<path d="M125.8 368.3 L125.7 366.4 L125.7 402.4 L125.8 404.3Z" fill="#fff" stroke="#fff" stroke-width="0.5"/>
<path d="M125.8 404.3 L125.7 402.4" stroke="#222" stroke-width="1" fill="none"/>
<path d="M125.7 369.3 v32" stroke="#e0e0e0" stroke-width="0.8" fill="none"/>
<path d="M158 369.3 L156.9 367.5 L156.9 403.5 L158 405.3Z" fill="#fff" stroke="#fff" stroke-width="0.5"/>
<path d="M158 405.3 L156.9 403.5" stroke="#222" stroke-width="1" fill="none"/>
<path d="M157.4 370.4 v32" stroke="#e0e0e0" stroke-width="0.8" fill="none"/>
<path d="M196.3 369.5 L192.2 366.7 L192.2 402.7 L196.3 405.5Z" fill="#fff" stroke="#fff" stroke-width="0.5"/>
<path d="M196.3 405.5 L192.2 402.7" stroke="#222" stroke-width="1" fill="none"/>
<path d="M194.3 370.1 v32" stroke="#e0e0e0" stroke-width="0.8" fill="none"/>
<path d="M152.8 367.7 L152.2 369.5 L152.2 405.5 L152.8 403.7Z" fill="#fff" stroke="#fff" stroke-width="0.5"/>
<path d="M152.8 403.7 L152.2 405.5" stroke="#222" stroke-width="1" fill="none"/>
<path d="M152.5 370.6 v32" stroke="#c4c4c4" stroke-width="0.8" fill="none"/>
<path d="M120.2 367.4 L117.5 370.4 L117.5 406.4 L120.2 403.4Z" fill="#fff" stroke="#fff" stroke-width="0.5"/>
<path d="M120.2 403.4 L117.5 406.4" stroke="#222" stroke-width="1" fill="none"/>
<path d="M118.8 370.9 v32" stroke="#c4c4c4" stroke-width="0.8" fill="none"/>
<path d="M199.8 371.3 L196.3 369.5 L196.3 405.5 L199.8 407.3Z" fill="#fff" stroke="#fff" stroke-width="0.5"/>
<path d="M199.8 407.3 L196.3 405.5" stroke="#222" stroke-width="1" fill="none"/>
<path d="M198 372.4 v32" stroke="#e0e0e0" stroke-width="0.8" fill="none"/>
<path d="M215.7 367.1 L204.6 371.7 L204.6 407.7 L215.7 403.1Z" fill="#fff" stroke="#fff" stroke-width="0.5"/>
<path d="M215.7 403.1 L204.6 407.7" stroke="#222" stroke-width="1" fill="none"/>
<path d="M212.4 370.5 v31" stroke="#ccc" stroke-width="0.9" fill="none"/>
<path d="M209.6 371.6 v31" stroke="#bbb" stroke-width="0.9" fill="none"/>
<path d="M207.4 372.5 v31" stroke="#ccc" stroke-width="0.9" fill="none"/>
<path d="M204.6 371.7 L202.3 372 L202.3 408 L204.6 407.7Z" fill="#fff" stroke="#fff" stroke-width="0.5"/>
<path d="M204.6 407.7 L202.3 408" stroke="#222" stroke-width="1" fill="none"/>
<path d="M203.4 373.8 v32" stroke="#c4c4c4" stroke-width="0.8" fill="none"/>
<path d="M202.3 372 L199.8 371.3 L199.8 407.3 L202.3 408Z" fill="#fff" stroke="#fff" stroke-width="0.5"/>
<path d="M202.3 408 L199.8 407.3" stroke="#222" stroke-width="1" fill="none"/>
<path d="M201 373.6 v32" stroke="#e0e0e0" stroke-width="0.8" fill="none"/>
<path d="M92.4 372.2 L92 370.6 L92 406.6 L92.4 408.2Z" fill="#fff" stroke="#fff" stroke-width="0.5"/>
<path d="M92.4 408.2 L92 406.6" stroke="#222" stroke-width="1" fill="none"/>
<path d="M92.2 373.4 v32" stroke="#e0e0e0" stroke-width="0.8" fill="none"/>
<path d="M159.8 372.4 L158 369.3 L158 405.3 L159.8 408.4Z" fill="#fff" stroke="#fff" stroke-width="0.5"/>
<path d="M159.8 408.4 L158 405.3" stroke="#222" stroke-width="1" fill="none"/>
<path d="M158.9 372.8 v32" stroke="#e0e0e0" stroke-width="0.8" fill="none"/>
<path d="M152.2 369.5 L151.3 372.8 L151.3 408.8 L152.2 405.5Z" fill="#fff" stroke="#fff" stroke-width="0.5"/>
<path d="M152.2 405.5 L151.3 408.8" stroke="#222" stroke-width="1" fill="none"/>
<path d="M151.7 373.2 v32" stroke="#c4c4c4" stroke-width="0.8" fill="none"/>
<path d="M94.1 373.2 L92.4 372.2 L92.4 408.2 L94.1 409.2Z" fill="#fff" stroke="#fff" stroke-width="0.5"/>
<path d="M94.1 409.2 L92.4 408.2" stroke="#222" stroke-width="1" fill="none"/>
<path d="M93.2 374.7 v32" stroke="#e0e0e0" stroke-width="0.8" fill="none"/>
<path d="M117.5 370.4 L114.2 373.5 L114.2 409.5 L117.5 406.4Z" fill="#fff" stroke="#fff" stroke-width="0.5"/>
<path d="M117.5 406.4 L114.2 409.5" stroke="#222" stroke-width="1" fill="none"/>
<path d="M115.8 373.9 v32" stroke="#c4c4c4" stroke-width="0.8" fill="none"/>
<path d="M185.2 372.4 L185.2 375.2 L185.2 411.2 L185.2 408.4Z" fill="#fff" stroke="#fff" stroke-width="0.5"/>
<path d="M185.2 408.4 L185.2 411.2" stroke="#222" stroke-width="1" fill="none"/>
<path d="M185.2 375.8 v32" stroke="#c4c4c4" stroke-width="0.8" fill="none"/>
<path d="M126.1 375.3 L125.7 371.6 L125.7 407.6 L126.1 411.3Z" fill="#fff" stroke="#fff" stroke-width="0.5"/>
<path d="M126.1 411.3 L125.7 407.6" stroke="#222" stroke-width="1" fill="none"/>
<path d="M125.9 375.5 v32" stroke="#e0e0e0" stroke-width="0.8" fill="none"/>
<path d="M114.2 373.5 L111.3 375.7 L111.3 411.7 L114.2 409.5Z" fill="#fff" stroke="#fff" stroke-width="0.5"/>
<path d="M114.2 409.5 L111.3 411.7" stroke="#222" stroke-width="1" fill="none"/>
<path d="M112.7 376.6 v32" stroke="#c4c4c4" stroke-width="0.8" fill="none"/>
<path d="M162.2 375.9 L159.8 372.4 L159.8 408.4 L162.2 411.9Z" fill="#fff" stroke="#fff" stroke-width="0.5"/>
<path d="M162.2 411.9 L159.8 408.4" stroke="#222" stroke-width="1" fill="none"/>
<path d="M161 376.2 v32" stroke="#e0e0e0" stroke-width="0.8" fill="none"/>
<path d="M151.3 372.8 L149.9 376.5 L149.9 412.5 L151.3 408.8Z" fill="#fff" stroke="#fff" stroke-width="0.5"/>
<path d="M151.3 408.8 L149.9 412.5" stroke="#222" stroke-width="1" fill="none"/>
<path d="M150.6 376.7 v32" stroke="#c4c4c4" stroke-width="0.8" fill="none"/>
<path d="M106.5 376.6 L94.1 373.2 L94.1 409.2 L106.5 412.6Z" fill="#fff" stroke="#fff" stroke-width="0.5"/>
<path d="M106.5 412.6 L94.1 409.2" stroke="#222" stroke-width="1" fill="none"/>
<path d="M102.8 377.6 v31" stroke="#ccc" stroke-width="0.9" fill="none"/>
<path d="M99.7 376.7 v31" stroke="#bbb" stroke-width="0.9" fill="none"/>
<path d="M97.2 376.1 v31" stroke="#ccc" stroke-width="0.9" fill="none"/>
<path d="M111.3 375.7 L108.9 376.7 L108.9 412.7 L111.3 411.7Z" fill="#fff" stroke="#fff" stroke-width="0.5"/>
<path d="M111.3 411.7 L108.9 412.7" stroke="#222" stroke-width="1" fill="none"/>
<path d="M110.1 378.2 v32" stroke="#c4c4c4" stroke-width="0.8" fill="none"/>
<path d="M108.9 376.7 L106.5 376.6 L106.5 412.6 L108.9 412.7Z" fill="#fff" stroke="#fff" stroke-width="0.5"/>
<path d="M108.9 412.7 L106.5 412.6" stroke="#222" stroke-width="1" fill="none"/>
<path d="M107.7 378.6 v32" stroke="#e0e0e0" stroke-width="0.8" fill="none"/>
<path d="M185.2 375.2 L184.3 376.8 L184.3 412.8 L185.2 411.2Z" fill="#fff" stroke="#fff" stroke-width="0.5"/>
<path d="M185.2 411.2 L184.3 412.8" stroke="#222" stroke-width="1" fill="none"/>
<path d="M184.8 378 v32" stroke="#c4c4c4" stroke-width="0.8" fill="none"/>
<path d="M184.3 376.8 L182.4 377.7 L182.4 413.7 L184.3 412.8Z" fill="#fff" stroke="#fff" stroke-width="0.5"/>
<path d="M184.3 412.8 L182.4 413.7" stroke="#222" stroke-width="1" fill="none"/>
<path d="M183.4 379.2 v32" stroke="#c4c4c4" stroke-width="0.8" fill="none"/>
<path d="M126.9 378.1 L126.1 375.3 L126.1 411.3 L126.9 414.1Z" fill="#fff" stroke="#fff" stroke-width="0.5"/>
<path d="M126.9 414.1 L126.1 411.3" stroke="#222" stroke-width="1" fill="none"/>
<path d="M126.5 378.7 v32" stroke="#e0e0e0" stroke-width="0.8" fill="none"/>
<path d="M164.5 378.4 L162.2 375.9 L162.2 411.9 L164.5 414.4Z" fill="#fff" stroke="#fff" stroke-width="0.5"/>
<path d="M164.5 414.4 L162.2 411.9" stroke="#222" stroke-width="1" fill="none"/>
<path d="M163.4 379.1 v32" stroke="#e0e0e0" stroke-width="0.8" fill="none"/>
<path d="M149.9 376.5 L148.3 379.2 L148.3 415.2 L149.9 412.5Z" fill="#fff" stroke="#fff" stroke-width="0.5"/>
<path d="M149.9 412.5 L148.3 415.2" stroke="#222" stroke-width="1" fill="none"/>
<path d="M149.1 379.9 v32" stroke="#c4c4c4" stroke-width="0.8" fill="none"/>
<path d="M166.6 379.5 L164.5 378.4 L164.5 414.4 L166.6 415.5Z" fill="#fff" stroke="#fff" stroke-width="0.5"/>
<path d="M166.6 415.5 L164.5 414.4" stroke="#222" stroke-width="1" fill="none"/>
<path d="M165.5 381 v32" stroke="#e0e0e0" stroke-width="0.8" fill="none"/>
<path d="M128.2 379.6 L126.9 378.1 L126.9 414.1 L128.2 415.6Z" fill="#fff" stroke="#fff" stroke-width="0.5"/>
<path d="M128.2 415.6 L126.9 414.1" stroke="#222" stroke-width="1" fill="none"/>
<path d="M127.5 380.9 v32" stroke="#e0e0e0" stroke-width="0.8" fill="none"/>
<path d="M182.4 377.7 L169 379.7 L169 415.7 L182.4 413.7Z" fill="#fff" stroke="#fff" stroke-width="0.5"/>
<path d="M182.4 413.7 L169 415.7" stroke="#222" stroke-width="1" fill="none"/>
<path d="M178.4 380.3 v31" stroke="#ccc" stroke-width="0.9" fill="none"/>
<path d="M175 380.8 v31" stroke="#bbb" stroke-width="0.9" fill="none"/>
<path d="M172.3 381.2 v31" stroke="#ccc" stroke-width="0.9" fill="none"/>
<path d="M169 379.7 L166.6 379.5 L166.6 415.5 L169 415.7Z" fill="#fff" stroke="#fff" stroke-width="0.5"/>
<path d="M169 415.7 L166.6 415.5" stroke="#222" stroke-width="1" fill="none"/>
<path d="M167.8 381.6 v32" stroke="#e0e0e0" stroke-width="0.8" fill="none"/>
<path d="M130.4 380.3 L128.2 379.6 L128.2 415.6 L130.4 416.3Z" fill="#fff" stroke="#fff" stroke-width="0.5"/>
<path d="M130.4 416.3 L128.2 415.6" stroke="#222" stroke-width="1" fill="none"/>
<path d="M129.3 382 v32" stroke="#e0e0e0" stroke-width="0.8" fill="none"/>
<path d="M148.3 379.2 L146.6 380.5 L146.6 416.5 L148.3 415.2Z" fill="#fff" stroke="#fff" stroke-width="0.5"/>
<path d="M148.3 415.2 L146.6 416.5" stroke="#222" stroke-width="1" fill="none"/>
<path d="M147.5 381.9 v32" stroke="#c4c4c4" stroke-width="0.8" fill="none"/>
<path d="M146.6 380.5 L144.3 381 L144.3 417 L146.6 416.5Z" fill="#fff" stroke="#fff" stroke-width="0.5"/>
<path d="M146.6 416.5 L144.3 417" stroke="#222" stroke-width="1" fill="none"/>
<path d="M145.4 382.8 v32" stroke="#c4c4c4" stroke-width="0.8" fill="none"/>
<path d="M144.3 381 L130.4 380.3 L130.4 416.3 L144.3 417Z" fill="#fff" stroke="#fff" stroke-width="0.5"/>
<path d="M144.3 417 L130.4 416.3" stroke="#222" stroke-width="1" fill="none"/>
<path d="M140.1 382.8 v31" stroke="#ccc" stroke-width="0.9" fill="none"/>
<path d="M136.6 382.6 v31" stroke="#bbb" stroke-width="0.9" fill="none"/>
<path d="M133.9 382.5 v31" stroke="#ccc" stroke-width="0.9" fill="none"/>
<path d="M65.4 331.8 v36" stroke="#222" stroke-width="0.9" fill="none"/>
<path d="M248.7 338.2 v36" stroke="#222" stroke-width="0.9" fill="none"/>
<path d="M224.4 339.4 v36" stroke="#222" stroke-width="0.9" fill="none"/>
<path d="M239.7 350.7 v36" stroke="#222" stroke-width="0.9" fill="none"/>
<path d="M232.4 357.2 v36" stroke="#222" stroke-width="0.9" fill="none"/>
<path d="M208.3 352.7 v36" stroke="#222" stroke-width="0.9" fill="none"/>
<path d="M215.7 367.1 v36" stroke="#222" stroke-width="0.9" fill="none"/>
<path d="M204.6 371.7 v36" stroke="#222" stroke-width="0.9" fill="none"/>
<path d="M184 362.1 v36" stroke="#222" stroke-width="0.9" fill="none"/>
<path d="M182.4 377.7 v36" stroke="#222" stroke-width="0.9" fill="none"/>
<path d="M169 379.7 v36" stroke="#222" stroke-width="0.9" fill="none"/>
<path d="M154.7 366.4 v36" stroke="#222" stroke-width="0.9" fill="none"/>
<path d="M144.3 381 v36" stroke="#222" stroke-width="0.9" fill="none"/>
<path d="M130.4 380.3 v36" stroke="#222" stroke-width="0.9" fill="none"/>
<path d="M124.3 364.9 v36" stroke="#222" stroke-width="0.9" fill="none"/>
<path d="M106.5 376.6 v36" stroke="#222" stroke-width="0.9" fill="none"/>
<path d="M94.1 373.2 v36" stroke="#222" stroke-width="0.9" fill="none"/>
<path d="M97 358 v36" stroke="#222" stroke-width="0.9" fill="none"/>
<path d="M74.3 365.1 v36" stroke="#222" stroke-width="0.9" fill="none"/>
<path d="M64.9 359.5 v36" stroke="#222" stroke-width="0.9" fill="none"/>
<path d="M76.4 346.4 v36" stroke="#222" stroke-width="0.9" fill="none"/>
<path d="M51.8 348.1 v36" stroke="#222" stroke-width="0.9" fill="none"/>
<path d="M46.8 341 v36" stroke="#222" stroke-width="0.9" fill="none"/>
<path d="M42.2 327.8 v36" stroke="#222" stroke-width="1" fill="none"/>
<path d="M251.3 317.3 v36" stroke="#222" stroke-width="1" fill="none"/>
<path d="M65.4 331.8 L64.8 331.3 L63.1 331 L60.2 330.9 L55 330.8 L49.3 330.4 L45.2 329.8 L43.1 329 L42.2 327.8 L42.2 320.2 L43.1 319 L45.2 318.2 L49.3 317.6 L55 317.2 L60.2 317.1 L63.1 317 L64.8 316.7 L65.4 316.2 L65.4 316.2 L65.2 315.6 L63.9 314.9 L61.2 314.1 L56.6 312.8 L51.6 311.1 L48.2 309.6 L46.7 308.3 L46.8 307 L51.8 299.9 L53.4 299 L56 298.8 L60.3 299.2 L65.8 300.2 L70.8 301.3 L73.7 301.8 L75.5 301.9 L76.4 301.6 L76.4 301.6 L76.6 301 L75.8 300 L73.9 298.7 L70.4 296.4 L66.8 293.6 L64.5 291.3 L64 289.8 L64.9 288.5 L74.3 282.9 L76.4 282.4 L79 282.7 L82.9 284.1 L87.7 286.4 L91.8 288.5 L94.2 289.7 L95.9 290.1 L97 290 L97 290 L97.6 289.5 L97.4 288.4 L96.4 286.7 L94.5 283.7 L92.7 280.2 L92 277.4 L92.4 275.8 L94.1 274.8 L106.5 271.4 L108.9 271.3 L111.3 272.3 L114.2 274.5 L117.5 277.6 L120.2 280.6 L121.8 282.2 L123.1 282.9 L124.3 283.1 L124.3 283.1 L125.2 282.6 L125.7 281.6 L125.8 279.7 L125.7 276.4 L126.1 272.7 L126.9 269.9 L128.2 268.4 L130.4 267.7 L144.3 267 L146.6 267.5 L148.3 268.8 L149.9 271.5 L151.3 275.2 L152.2 278.5 L152.8 280.3 L153.6 281.3 L154.7 281.6 L154.7 281.6 L155.8 281.4 L156.9 280.5 L158 278.7 L159.8 275.6 L162.2 272.1 L164.5 269.6 L166.6 268.5 L169 268.3 L182.4 270.3 L184.3 271.2 L185.2 272.8 L185.2 275.6 L184.5 279.3 L183.5 282.5 L183 284.3 L183.2 285.4 L184 285.9 L184 285.9 L185.2 285.9 L186.7 285.3 L188.7 283.9 L192.2 281.3 L196.3 278.5 L199.8 276.7 L202.3 276 L204.6 276.3 L215.7 280.9 L217 282.1 L216.9 283.7 L215.4 286.2 L212.7 289.4 L209.9 292.2 L208.4 293.7 L207.9 294.7 L208.3 295.3 L208.3 295.3 L209.4 295.5 L211.2 295.3 L213.8 294.4 L218.5 292.8 L223.7 291.1 L227.9 290.2 L230.5 290.1 L232.4 290.8 L239.7 297.3 L240.2 298.6 L239.2 300 L236.3 302 L232 304.2 L227.8 306.1 L225.5 307.2 L224.4 308 L224.4 308.6 L224.4 308.6 L225.2 309 L227 309.2 L229.9 308.9 L235.1 308.5 L240.8 308.1 L245.1 308.2 L247.5 308.7 L248.7 309.8 L251.3 317.3 L250.9 318.6 L249 319.6 L245.2 320.7 L239.8 321.7 L234.8 322.5 L232 322.9 L230.4 323.4 L230 324 L230 324 L230.4 324.6 L232 325.1 L234.8 325.5 L239.8 326.3 L245.2 327.3 L249 328.4 L250.9 329.4 L251.3 330.7 L248.7 338.2 L247.5 339.3 L245.1 339.8 L240.8 339.9 L235.1 339.5 L229.9 339.1 L227 338.8 L225.2 339 L224.4 339.4 L224.4 339.4 L224.4 340 L225.5 340.8 L227.8 341.9 L232 343.8 L236.3 346 L239.2 348 L240.2 349.4 L239.7 350.7 L232.4 357.2 L230.5 357.9 L227.9 357.8 L223.7 356.9 L218.5 355.2 L213.8 353.6 L211.2 352.7 L209.4 352.5 L208.3 352.7 L208.3 352.7 L207.9 353.3 L208.4 354.3 L209.9 355.8 L212.7 358.6 L215.4 361.8 L216.9 364.3 L217 365.9 L215.7 367.1 L204.6 371.7 L202.3 372 L199.8 371.3 L196.3 369.5 L192.2 366.7 L188.7 364.1 L186.7 362.7 L185.2 362.1 L184 362.1 L184 362.1 L183.2 362.6 L183 363.7 L183.5 365.5 L184.5 368.7 L185.2 372.4 L185.2 375.2 L184.3 376.8 L182.4 377.7 L169 379.7 L166.6 379.5 L164.5 378.4 L162.2 375.9 L159.8 372.4 L158 369.3 L156.9 367.5 L155.8 366.6 L154.7 366.4 L154.7 366.4 L153.6 366.7 L152.8 367.7 L152.2 369.5 L151.3 372.8 L149.9 376.5 L148.3 379.2 L146.6 380.5 L144.3 381 L130.4 380.3 L128.2 379.6 L126.9 378.1 L126.1 375.3 L125.7 371.6 L125.8 368.3 L125.7 366.4 L125.2 365.4 L124.3 364.9 L124.3 364.9 L123.1 365.1 L121.8 365.8 L120.2 367.4 L117.5 370.4 L114.2 373.5 L111.3 375.7 L108.9 376.7 L106.5 376.6 L94.1 373.2 L92.4 372.2 L92 370.6 L92.7 367.8 L94.5 364.3 L96.4 361.3 L97.4 359.6 L97.6 358.5 L97 358 L97 358 L95.9 357.9 L94.2 358.3 L91.8 359.5 L87.7 361.6 L82.9 363.9 L79 365.3 L76.4 365.6 L74.3 365.1 L64.9 359.5 L64 358.2 L64.5 356.7 L66.8 354.4 L70.4 351.6 L73.9 349.3 L75.8 348 L76.6 347 L76.4 346.4 L76.4 346.4 L75.5 346.1 L73.7 346.2 L70.8 346.7 L65.8 347.8 L60.3 348.8 L56 349.2 L53.4 349 L51.8 348.1 L46.8 341 L46.7 339.7 L48.2 338.4 L51.6 336.9 L56.6 335.2 L61.2 333.9 L63.9 333.1 L65.2 332.4 L65.4 331.8Z" fill="#fff" stroke="#222" stroke-width="1.1" stroke-linejoin="round"/>
<defs><path id="bg" d="M13.8 -92.2 L16.5 -92.3 L18.8 -92.6 L20.5 -93.2 L21.3 -94 L21.8 -95.5 L22.2 -97 L22.8 -98.2 L23.6 -99.4 L24.9 -100.5 L26.5 -101.3 L28.2 -101.5 L35.1 -101.2 L36.5 -100.8 L37.3 -99.9 L37.7 -98.8 L37.5 -97.5 L36.9 -96.2 L36.1 -94.8 L35.4 -93.3 L35.5 -92.5 L36.7 -91.7 L38.7 -91.2 L41.2 -90.8 L41.2 -90.8 L43.9 -90.8 L46.4 -91 L48.3 -91.6 L49.4 -92.3 L50.5 -93.7 L51.5 -95.2 L52.6 -96.4 L54 -97.6 L55.8 -98.6 L57.7 -99.3 L59.4 -99.5 L66.2 -98.8 L67.5 -98.4 L67.9 -97.4 L67.7 -96.3 L67 -95 L65.9 -93.8 L64.5 -92.4 L63.2 -90.9 L63 -90.1 L63.8 -89.3 L65.6 -88.6 L68 -88.2 L68 -88.2 L70.7 -88 L73.3 -88.1 L75.4 -88.5 L76.8 -89.2 L78.5 -90.6 L80.1 -92 L81.7 -93.2 L83.5 -94.3 L85.8 -95.3 L88 -95.9 L89.8 -95.9 L96.3 -95 L97.4 -94.5 L97.4 -93.5 L96.8 -92.4 L95.5 -91.1 L93.9 -89.9 L91.9 -88.6 L90 -87.2 L89.5 -86.4 L90.1 -85.5 L91.6 -84.8 L93.8 -84.2 L93.8 -84.2 L96.4 -83.9 L99.1 -83.9 L101.4 -84.2 L103 -84.9 L105.3 -86.2 L107.5 -87.5 L109.5 -88.6 L111.9 -89.7 L114.5 -90.5 L117 -91.1 L118.9 -91 L125.1 -89.8 L126 -89.2 L125.6 -88.3 L124.4 -87.1 L122.6 -85.9 L120.6 -84.8 L118 -83.5 L115.6 -82.2 L114.8 -81.4 L115 -80.5 L116.2 -79.7 L118.2 -79 L118.2 -79 L120.7 -78.6 L123.4 -78.5 L125.9 -78.7 L127.8 -79.3 L130.6 -80.5 L133.3 -81.8 L135.8 -82.8 L138.6 -83.7 L141.6 -84.5 L144.3 -84.9 L146.2 -84.8 L152 -83.3 L152.7 -82.7 L151.9 -81.7 L150.2 -80.6 L148 -79.5 L145.5 -78.4 L142.4 -77.2 L139.5 -76 L138.3 -75.3 L138.2 -74.4 L139.1 -73.5 L140.9 -72.7 L140.9 -72.7 L143.3 -72.1 L146 -71.9 L148.6 -72 L150.6 -72.5 L154 -73.6 L157.2 -74.8 L160.1 -75.7 L163.3 -76.6 L166.6 -77.2 L169.6 -77.5 L171.4 -77.3 L176.7 -75.5 L177.1 -74.9 L176 -74 L173.9 -72.9 L171.2 -71.8 L168.3 -70.9 L164.7 -69.8 L161.3 -68.7 L159.9 -68 L159.4 -67.1 L160 -66.2 L161.6 -65.3 L161.6 -65.3 L163.8 -64.6 L166.4 -64.3 L169.1 -64.3 L171.3 -64.7 L175.1 -65.7 L178.8 -66.7 L182.1 -67.6 L185.6 -68.3 L189.2 -68.8 L192.3 -69 L194.2 -68.7 L198.8 -66.7 L199 -66 L197.5 -65.1 L195 -64.1 L191.9 -63.2 L188.6 -62.3 L184.6 -61.4 L180.8 -60.4 L179.1 -59.8 L178.3 -58.9 L178.6 -57.9 L179.9 -56.9 L179.9 -56.9 L181.9 -56.2 L184.4 -55.7 L187.1 -55.6 L189.5 -55.9 L193.7 -56.8 L197.7 -57.7 L201.4 -58.4 L205.2 -59 L209.1 -59.4 L212.3 -59.5 L214 -59.1 L218 -56.9 L218 -56.2 L216.2 -55.3 L213.3 -54.4 L209.8 -53.6 L206.2 -52.9 L201.8 -52.1 L197.6 -51.2 L195.7 -50.6 L194.6 -49.8 L194.6 -48.8 L195.5 -47.8 L195.5 -47.8 L197.3 -46.9 L199.7 -46.4 L202.4 -46.2 L205 -46.4 L209.4 -47.1 L213.8 -47.8 L217.8 -48.4 L221.8 -48.8 L225.9 -49.1 L229.1 -49.1 L230.8 -48.7 L234 -46.2 L233.8 -45.6 L231.7 -44.8 L228.4 -43.9 L224.6 -43.2 L220.7 -42.6 L216.1 -42 L211.6 -41.3 L209.4 -40.8 L208.1 -39.9 L207.7 -38.9 L208.4 -37.9 L208.4 -37.9 L209.9 -37 L212.1 -36.3 L214.8 -36 L217.4 -36.1 L222.1 -36.7 L226.8 -37.3 L231 -37.7 L235.2 -38 L239.3 -38.1 L242.6 -37.9 L244.2 -37.5 L246.7 -34.9 L246.2 -34.3 L243.8 -33.5 L240.2 -32.8 L236.2 -32.2 L232.1 -31.8 L227.2 -31.3 L222.4 -30.8 L220.1 -30.3 L218.5 -29.5 L217.8 -28.5 L218.2 -27.5 L218.2 -27.5 L219.4 -26.5 L221.5 -25.7 L224 -25.3 L226.7 -25.3 L231.6 -25.7 L236.5 -26.1 L240.8 -26.4 L245.2 -26.6 L249.3 -26.5 L252.6 -26.3 L254 -25.8 L255.7 -23.1 L255 -22.5 L252.3 -21.8 L248.5 -21.2 L244.3 -20.8 L240 -20.4 L235 -20.1 L230.1 -19.8 L227.6 -19.4 L225.8 -18.7 L224.8 -17.7 L224.8 -16.6 L224.8 -16.6 L225.7 -15.6 L227.5 -14.8 L230 -14.3 L232.6 -14.2 L237.7 -14.4 L242.7 -14.6 L247.1 -14.8 L251.5 -14.8 L255.7 -14.6 L258.9 -14.2 L260.1 -13.7 L261 -11 L260.1 -10.3 L257.2 -9.7 L253.2 -9.3 L248.9 -9 L244.5 -8.8 L239.4 -8.7 L234.3 -8.5 L231.8 -8.3 L229.7 -7.6 L228.4 -6.7 L228.1 -5.6 L228.1 -5.6 L228.7 -4.5 L230.3 -3.6 L232.6 -3 L235.2 -2.9 L240.3 -2.9 L245.4 -2.9 L249.8 -2.9 L254.2 -2.8 L258.3 -2.4 L261.4 -2 L262.5 -1.4 L262.5 1.4 L261.4 2 L258.3 2.4 L254.2 2.8 L249.8 2.9 L245.4 2.9 L240.3 2.9 L235.2 2.9 L232.6 3 L230.3 3.6 L228.7 4.5 L228.1 5.6 L228.1 5.6 L228.4 6.7 L229.7 7.6 L231.8 8.3 L234.3 8.5 L239.4 8.7 L244.5 8.8 L248.9 9 L253.2 9.3 L257.2 9.7 L260.1 10.3 L261 11 L260.1 13.7 L258.9 14.2 L255.7 14.6 L251.5 14.8 L247.1 14.8 L242.7 14.6 L237.7 14.4 L232.6 14.2 L230 14.3 L227.5 14.8 L225.7 15.6 L224.8 16.6 L224.8 16.6 L224.8 17.7 L225.8 18.7 L227.6 19.4 L230.1 19.8 L235 20.1 L240 20.4 L244.3 20.8 L248.5 21.2 L252.3 21.8 L255 22.5 L255.7 23.1 L254 25.8 L252.6 26.3 L249.3 26.5 L245.2 26.6 L240.8 26.4 L236.5 26.1 L231.6 25.7 L226.7 25.3 L224 25.3 L221.5 25.7 L219.4 26.5 L218.2 27.5 L218.2 27.5 L217.8 28.5 L218.5 29.5 L220.1 30.3 L222.4 30.8 L227.2 31.3 L232.1 31.8 L236.2 32.2 L240.2 32.8 L243.8 33.5 L246.2 34.3 L246.7 34.9 L244.2 37.4 L242.9 37.8 L239.9 37.9 L235.9 37.7 L231.4 37.5 L227 37.1 L222.2 36.6 L217.4 36.1 L214.8 36 L212.1 36.3 L209.9 37 L208.4 37.9 L208.4 37.9 L207.7 38.9 L208.1 39.9 L209.4 40.8 L211.6 41.3 L216 42.1 L220.5 42.8 L224.5 43.5 L228.4 44.3 L231.6 45 L233.7 45.7 L234 46.3 L230.9 48.6 L229.7 48.8 L227 48.7 L223.2 48.4 L218.7 48 L214.3 47.5 L209.6 46.9 L205 46.4 L202.4 46.2 L199.7 46.4 L197.3 46.9 L195.5 47.8 L195.5 47.8 L194.6 48.8 L194.6 49.8 L195.7 50.6 L197.6 51.2 L201.6 52.2 L205.7 53.2 L209.4 54.1 L213 55 L215.9 55.9 L217.6 56.5 L217.9 56.9 L214.2 59 L213.2 59.1 L210.9 58.8 L207.4 58.5 L202.9 57.9 L198.5 57.3 L194 56.6 L189.5 55.9 L187.1 55.6 L184.4 55.7 L181.9 56.2 L179.9 56.9 L179.9 56.9 L178.6 57.9 L178.3 58.9 L179.1 59.8 L180.8 60.4 L184.3 61.6 L187.7 62.7 L191.1 63.9 L194.4 65 L196.8 65.9 L198.3 66.5 L198.6 66.8 L194.4 68.6 L193.6 68.5 L191.7 68.2 L188.5 67.7 L184.2 67 L179.9 66.2 L175.6 65.5 L171.3 64.7 L169.1 64.3 L166.4 64.3 L163.8 64.6 L161.6 65.3 L161.6 65.3 L160 66.2 L159.4 67.1 L159.9 68 L161.3 68.7 L164.2 70 L167.1 71.3 L169.9 72.6 L172.7 73.9 L174.8 74.8 L176 75.4 L176.4 75.6 L171.7 77.2 L171 77.1 L169.3 76.8 L166.3 76.1 L162.4 75.3 L158.4 74.4 L154.5 73.4 L150.6 72.5 L148.6 72 L146 71.9 L143.3 72.1 L140.9 72.7 L140.9 72.7 L139.1 73.5 L138.2 74.4 L138.3 75.3 L139.5 76 L141.8 77.4 L144.2 78.8 L146.5 80.2 L148.7 81.5 L150.4 82.5 L151.4 83.1 L151.7 83.3 L146.5 84.7 L145.9 84.6 L144.3 84.2 L141.7 83.4 L138.2 82.4 L134.7 81.4 L131.2 80.3 L127.8 79.3 L125.9 78.7 L123.4 78.5 L120.7 78.6 L118.2 79 L118.2 79 L116.2 79.7 L115 80.5 L114.8 81.4 L115.6 82.2 L117.4 83.7 L119.2 85.1 L120.9 86.6 L122.6 88 L123.8 89 L124.6 89.6 L124.8 89.8 L119.2 91 L118.6 90.8 L117.3 90.3 L115 89.5 L112 88.4 L109 87.2 L106 86.1 L103 84.9 L101.4 84.2 L99.1 83.9 L96.4 83.9 L93.8 84.2 L93.8 84.2 L91.6 84.8 L90.1 85.5 L89.5 86.4 L90 87.2 L91.2 88.7 L92.4 90.2 L93.5 91.7 L94.6 93.1 L95.4 94.2 L95.9 94.8 L96 95 L90.1 95.9 L89.6 95.7 L88.5 95.2 L86.7 94.3 L84.1 93.1 L81.7 91.8 L79.2 90.5 L76.8 89.2 L75.4 88.5 L73.3 88.1 L70.7 88 L68 88.2 L68 88.2 L65.6 88.6 L63.8 89.3 L63 90.1 L63.2 90.9 L63.8 92.4 L64.3 94 L64.8 95.4 L65.3 96.9 L65.7 98 L65.9 98.6 L65.9 98.8 L59.7 99.4 L59.4 99.2 L58.5 98.7 L57 97.7 L55.1 96.4 L53.1 95 L51.3 93.7 L49.4 92.3 L48.3 91.6 L46.4 91 L43.9 90.8 L41.2 90.8 L41.2 90.8 L38.7 91.2 L36.7 91.7 L35.5 92.5 L35.4 93.3 L35.4 94.8 L35.3 96.3 L35.2 97.8 L35 99.3 L34.9 100.4 L34.9 101 L34.8 101.2 L28.5 101.5 L28.2 101.3 L27.6 100.7 L26.6 99.7 L25.2 98.3 L23.9 96.9 L22.6 95.5 L21.3 94 L20.5 93.2 L18.8 92.6 L16.5 92.3 L13.8 92.2 L13.8 92.2 L11.2 92.4 L9 92.9 L7.6 93.5 L7.1 94.3 L6.4 95.8 L5.8 97.3 L5 98.8 L4.3 100.2 L3.7 101.3 L3.4 101.9 L3.2 102.1 L-3.2 102.1 L-3.4 101.9 L-3.7 101.3 L-4.3 100.2 L-5 98.8 L-5.8 97.3 L-6.4 95.8 L-7.1 94.3 L-7.6 93.5 L-9 92.9 L-11.2 92.4 L-13.8 92.2 L-13.8 92.2 L-16.5 92.3 L-18.8 92.6 L-20.5 93.2 L-21.3 94 L-22.6 95.5 L-23.9 96.9 L-25.2 98.3 L-26.6 99.7 L-27.6 100.7 L-28.2 101.3 L-28.5 101.5 L-34.8 101.2 L-34.9 101 L-34.9 100.4 L-35 99.3 L-35.2 97.8 L-35.3 96.3 L-35.4 94.8 L-35.4 93.3 L-35.5 92.5 L-36.7 91.7 L-38.7 91.2 L-41.2 90.8 L-41.2 90.8 L-43.9 90.8 L-46.4 91 L-48.3 91.6 L-49.4 92.3 L-51.3 93.7 L-53.1 95 L-55.1 96.4 L-57 97.7 L-58.5 98.7 L-59.4 99.2 L-59.7 99.4 L-65.9 98.8 L-65.9 98.6 L-65.7 98 L-65.3 96.9 L-64.8 95.4 L-64.3 94 L-63.8 92.4 L-63.2 90.9 L-63 90.1 L-63.8 89.3 L-65.6 88.6 L-68 88.2 L-68 88.2 L-70.7 88 L-73.3 88.1 L-75.4 88.5 L-76.8 89.2 L-79.2 90.5 L-81.7 91.8 L-84.1 93.1 L-86.7 94.3 L-88.5 95.2 L-89.6 95.7 L-90.1 95.9 L-96 95 L-95.9 94.8 L-95.4 94.2 L-94.6 93.1 L-93.5 91.7 L-92.4 90.2 L-91.2 88.7 L-90 87.2 L-89.5 86.4 L-90.1 85.5 L-91.6 84.8 L-93.8 84.2 L-93.8 84.2 L-96.4 83.9 L-99.1 83.9 L-101.4 84.2 L-103 84.9 L-106 86.1 L-109 87.2 L-112 88.4 L-115 89.5 L-117.3 90.3 L-118.6 90.8 L-119.2 91 L-124.8 89.8 L-124.6 89.6 L-123.8 89 L-122.6 88 L-120.9 86.6 L-119.2 85.1 L-117.4 83.7 L-115.6 82.2 L-114.8 81.4 L-115 80.5 L-116.2 79.7 L-118.2 79 L-118.2 79 L-120.7 78.6 L-123.4 78.5 L-125.9 78.7 L-127.8 79.3 L-131.2 80.3 L-134.7 81.4 L-138.2 82.4 L-141.7 83.4 L-144.3 84.2 L-145.9 84.6 L-146.5 84.7 L-151.7 83.3 L-151.4 83.1 L-150.4 82.5 L-148.7 81.5 L-146.5 80.2 L-144.2 78.8 L-141.8 77.4 L-139.5 76 L-138.3 75.3 L-138.2 74.4 L-139.1 73.5 L-140.9 72.7 L-140.9 72.7 L-143.3 72.1 L-146 71.9 L-148.6 72 L-150.6 72.5 L-154.5 73.4 L-158.4 74.4 L-162.4 75.3 L-166.3 76.1 L-169.3 76.8 L-171 77.1 L-171.7 77.2 L-176.4 75.6 L-176 75.4 L-174.8 74.8 L-172.7 73.9 L-169.9 72.6 L-167.1 71.3 L-164.2 70 L-161.3 68.7 L-159.9 68 L-159.4 67.1 L-160 66.2 L-161.6 65.3 L-161.6 65.3 L-163.8 64.6 L-166.4 64.3 L-169.1 64.3 L-171.3 64.7 L-175.6 65.5 L-179.9 66.2 L-184.2 67 L-188.5 67.7 L-191.7 68.2 L-193.6 68.5 L-194.4 68.6 L-198.6 66.8 L-198.3 66.5 L-196.8 65.9 L-194.4 65 L-191.1 63.9 L-187.7 62.7 L-184.3 61.6 L-180.8 60.4 L-179.1 59.8 L-178.3 58.9 L-178.6 57.9 L-179.9 56.9 L-179.9 56.9 L-181.9 56.2 L-184.4 55.7 L-187.1 55.6 L-189.5 55.9 L-194 56.6 L-198.5 57.3 L-202.9 57.9 L-207.4 58.5 L-210.9 58.8 L-213.2 59.1 L-214.2 59 L-217.9 56.9 L-217.6 56.5 L-215.9 55.9 L-213 55 L-209.4 54.1 L-205.7 53.2 L-201.6 52.2 L-197.6 51.2 L-195.7 50.6 L-194.6 49.8 L-194.6 48.8 L-195.5 47.8 L-195.5 47.8 L-197.3 46.9 L-199.7 46.4 L-202.4 46.2 L-205 46.4 L-209.6 46.9 L-214.3 47.5 L-218.7 48 L-223.2 48.4 L-227 48.7 L-229.7 48.8 L-230.9 48.6 L-234 46.3 L-233.7 45.7 L-231.6 45 L-228.4 44.3 L-224.5 43.5 L-220.5 42.8 L-216 42.1 L-211.6 41.3 L-209.4 40.8 L-208.1 39.9 L-207.7 38.9 L-208.4 37.9 L-208.4 37.9 L-209.9 37 L-212.1 36.3 L-214.8 36 L-217.4 36.1 L-222.2 36.6 L-227 37.1 L-231.4 37.5 L-235.9 37.7 L-239.9 37.9 L-242.9 37.8 L-244.2 37.4 L-246.7 34.9 L-246.2 34.3 L-243.8 33.5 L-240.2 32.8 L-236.2 32.2 L-232.1 31.8 L-227.2 31.3 L-222.4 30.8 L-220.1 30.3 L-218.5 29.5 L-217.8 28.5 L-218.2 27.5 L-218.2 27.5 L-219.4 26.5 L-221.5 25.7 L-224 25.3 L-226.7 25.3 L-231.6 25.7 L-236.5 26.1 L-240.8 26.4 L-245.2 26.6 L-249.3 26.5 L-252.6 26.3 L-254 25.8 L-255.7 23.1 L-255 22.5 L-252.3 21.8 L-248.5 21.2 L-244.3 20.8 L-240 20.4 L-235 20.1 L-230.1 19.8 L-227.6 19.4 L-225.8 18.7 L-224.8 17.7 L-224.8 16.6 L-224.8 16.6 L-225.7 15.6 L-227.5 14.8 L-230 14.3 L-232.6 14.2 L-237.7 14.4 L-242.7 14.6 L-247.1 14.8 L-251.5 14.8 L-255.7 14.6 L-258.9 14.2 L-260.1 13.7 L-261 11 L-260.1 10.3 L-257.2 9.7 L-253.2 9.3 L-248.9 9 L-244.5 8.8 L-239.4 8.7 L-234.3 8.5 L-231.8 8.3 L-229.7 7.6 L-228.4 6.7 L-228.1 5.6 L-228.1 5.6 L-228.7 4.5 L-230.3 3.6 L-232.6 3 L-235.2 2.9 L-240.3 2.9 L-245.4 2.9 L-249.8 2.9 L-254.2 2.8 L-258.3 2.4 L-261.4 2 L-262.5 1.4 L-262.5 -1.4 L-261.4 -2 L-258.3 -2.4 L-254.2 -2.8 L-249.8 -2.9 L-245.4 -2.9 L-240.3 -2.9 L-235.2 -2.9 L-232.6 -3 L-230.3 -3.6 L-228.7 -4.5 L-228.1 -5.6 L-228.1 -5.6 L-228.4 -6.7 L-229.7 -7.6 L-231.8 -8.3 L-234.3 -8.5 L-239.4 -8.7 L-244.5 -8.8 L-248.9 -9 L-253.2 -9.3 L-257.2 -9.7 L-260.1 -10.3 L-261 -11 L-260.1 -13.7 L-258.9 -14.2 L-255.7 -14.6 L-251.5 -14.8 L-247.1 -14.8 L-242.7 -14.6 L-237.7 -14.4 L-232.6 -14.2 L-230 -14.3 L-227.5 -14.8 L-225.7 -15.6 L-224.8 -16.6 L-224.8 -16.6 L-224.8 -17.7 L-225.8 -18.7 L-227.6 -19.4 L-230.1 -19.8 L-235 -20.1 L-240 -20.4 L-244.3 -20.8 L-248.5 -21.2 L-252.3 -21.8 L-255 -22.5 L-255.7 -23.1 L-254 -25.8 L-252.6 -26.3 L-249.3 -26.5 L-245.2 -26.6 L-240.8 -26.4 L-236.5 -26.1 L-231.6 -25.7 L-226.7 -25.3 L-224 -25.3 L-221.5 -25.7 L-219.4 -26.5 L-218.2 -27.5 L-218.2 -27.5 L-217.8 -28.5 L-218.5 -29.5 L-220.1 -30.3 L-222.4 -30.8 L-227.2 -31.3 L-232.1 -31.8 L-236.2 -32.2 L-240.2 -32.8 L-243.8 -33.5 L-246.2 -34.3 L-246.7 -34.9 L-244.2 -37.5 L-242.6 -37.9 L-239.3 -38.1 L-235.2 -38 L-231 -37.7 L-226.8 -37.3 L-222.1 -36.7 L-217.4 -36.1 L-214.8 -36 L-212.1 -36.3 L-209.9 -37 L-208.4 -37.9 L-208.4 -37.9 L-207.7 -38.9 L-208.1 -39.9 L-209.4 -40.8 L-211.6 -41.3 L-216.1 -42 L-220.7 -42.6 L-224.6 -43.2 L-228.4 -43.9 L-231.7 -44.8 L-233.8 -45.6 L-234 -46.2 L-230.8 -48.7 L-229.1 -49.1 L-225.9 -49.1 L-221.8 -48.8 L-217.8 -48.4 L-213.8 -47.8 L-209.4 -47.1 L-205 -46.4 L-202.4 -46.2 L-199.7 -46.4 L-197.3 -46.9 L-195.5 -47.8 L-195.5 -47.8 L-194.6 -48.8 L-194.6 -49.8 L-195.7 -50.6 L-197.6 -51.2 L-201.8 -52.1 L-206.2 -52.9 L-209.8 -53.6 L-213.3 -54.4 L-216.2 -55.3 L-218 -56.2 L-218 -56.9 L-214 -59.1 L-212.3 -59.5 L-209.1 -59.4 L-205.2 -59 L-201.4 -58.4 L-197.7 -57.7 L-193.7 -56.8 L-189.5 -55.9 L-187.1 -55.6 L-184.4 -55.7 L-181.9 -56.2 L-179.9 -56.9 L-179.9 -56.9 L-178.6 -57.9 L-178.3 -58.9 L-179.1 -59.8 L-180.8 -60.4 L-184.6 -61.4 L-188.6 -62.3 L-191.9 -63.2 L-195 -64.1 L-197.5 -65.1 L-199 -66 L-198.8 -66.7 L-194.2 -68.7 L-192.3 -69 L-189.2 -68.8 L-185.6 -68.3 L-182.1 -67.6 L-178.8 -66.7 L-175.1 -65.7 L-171.3 -64.7 L-169.1 -64.3 L-166.4 -64.3 L-163.8 -64.6 L-161.6 -65.3 L-161.6 -65.3 L-160 -66.2 L-159.4 -67.1 L-159.9 -68 L-161.3 -68.7 L-164.7 -69.8 L-168.3 -70.9 L-171.2 -71.8 L-173.9 -72.9 L-176 -74 L-177.1 -74.9 L-176.7 -75.5 L-171.4 -77.3 L-169.6 -77.5 L-166.6 -77.2 L-163.3 -76.6 L-160.1 -75.7 L-157.2 -74.8 L-154 -73.6 L-150.6 -72.5 L-148.6 -72 L-146 -71.9 L-143.3 -72.1 L-140.9 -72.7 L-140.9 -72.7 L-139.1 -73.5 L-138.2 -74.4 L-138.3 -75.3 L-139.5 -76 L-142.4 -77.2 L-145.5 -78.4 L-148 -79.5 L-150.2 -80.6 L-151.9 -81.7 L-152.7 -82.7 L-152 -83.3 L-146.2 -84.8 L-144.3 -84.9 L-141.6 -84.5 L-138.6 -83.7 L-135.8 -82.8 L-133.3 -81.8 L-130.6 -80.5 L-127.8 -79.3 L-125.9 -78.7 L-123.4 -78.5 L-120.7 -78.6 L-118.2 -79 L-118.2 -79 L-116.2 -79.7 L-115 -80.5 L-114.8 -81.4 L-115.6 -82.2 L-118 -83.5 L-120.6 -84.8 L-122.6 -85.9 L-124.4 -87.1 L-125.6 -88.3 L-126 -89.2 L-125.1 -89.8 L-118.9 -91 L-117 -91.1 L-114.5 -90.5 L-111.9 -89.7 L-109.5 -88.6 L-107.5 -87.5 L-105.3 -86.2 L-103 -84.9 L-101.4 -84.2 L-99.1 -83.9 L-96.4 -83.9 L-93.8 -84.2 L-93.8 -84.2 L-91.6 -84.8 L-90.1 -85.5 L-89.5 -86.4 L-90 -87.2 L-91.9 -88.6 L-93.9 -89.9 L-95.5 -91.1 L-96.8 -92.4 L-97.4 -93.5 L-97.4 -94.5 L-96.3 -95 L-89.8 -95.9 L-88 -95.9 L-85.8 -95.3 L-83.5 -94.3 L-81.7 -93.2 L-80.1 -92 L-78.5 -90.6 L-76.8 -89.2 L-75.4 -88.5 L-73.3 -88.1 L-70.7 -88 L-68 -88.2 L-68 -88.2 L-65.6 -88.6 L-63.8 -89.3 L-63 -90.1 L-63.2 -90.9 L-64.5 -92.4 L-65.9 -93.8 L-67 -95 L-67.7 -96.3 L-67.9 -97.4 L-67.5 -98.4 L-66.2 -98.8 L-59.4 -99.5 L-57.7 -99.3 L-55.8 -98.6 L-54 -97.6 L-52.6 -96.4 L-51.5 -95.2 L-50.5 -93.7 L-49.4 -92.3 L-48.3 -91.6 L-46.4 -91 L-43.9 -90.8 L-41.2 -90.8 L-41.2 -90.8 L-38.7 -91.2 L-36.7 -91.7 L-35.5 -92.5 L-35.4 -93.3 L-36.1 -94.8 L-36.9 -96.2 L-37.5 -97.5 L-37.7 -98.8 L-37.3 -99.9 L-36.5 -100.8 L-35.1 -101.2 L-28.2 -101.5 L-26.5 -101.3 L-24.9 -100.5 L-23.6 -99.4 L-22.8 -98.2 L-22.2 -97 L-21.8 -95.5 L-21.3 -94 L-20.5 -93.2 L-18.8 -92.6 L-16.5 -92.3 L-13.8 -92.2 L-13.8 -92.2 L-11.2 -92.4 L-9 -92.9 L-7.6 -93.5 L-7.1 -94.3 L-7.2 -95.8 L-7.4 -97.3 L-7.4 -98.6 L-7.1 -99.8 L-6.2 -101 L-5.1 -101.8 L-3.5 -102.1 L3.5 -102.1 L5.1 -101.8 L6.2 -101 L7.1 -99.8 L7.4 -98.6 L7.4 -97.3 L7.2 -95.8 L7.1 -94.3 L7.6 -93.5 L9 -92.9 L11.2 -92.4 L13.8 -92.2Z"/></defs>
<defs><path id="ra" d="M199.7 46.4 L197.3 46.9 L195.5 47.8 L195.5 47.8 L194.6 48.8 L194.6 49.8 L195.7 50.6M217.9 56.9 L214.2 59M187.1 55.6 L184.4 55.7 L181.9 56.2 L179.9 56.9 L179.9 56.9 L178.6 57.9 L178.3 58.9 L179.1 59.8M198.6 66.8 L194.4 68.6M169.1 64.3 L166.4 64.3 L163.8 64.6 L161.6 65.3 L161.6 65.3 L160 66.2 L159.4 67.1 L159.9 68M176.4 75.6 L171.7 77.2M148.6 72 L146 71.9 L143.3 72.1 L140.9 72.7 L140.9 72.7 L139.1 73.5 L138.2 74.4 L138.3 75.3M151.7 83.3 L146.5 84.7M125.9 78.7 L123.4 78.5 L120.7 78.6 L118.2 79 L118.2 79 L116.2 79.7 L115 80.5 L114.8 81.4M124.8 89.8 L119.2 91M101.4 84.2 L99.1 83.9 L96.4 83.9 L93.8 84.2 L93.8 84.2 L91.6 84.8 L90.1 85.5 L89.5 86.4M96 95 L90.1 95.9M75.4 88.5 L73.3 88.1 L70.7 88 L68 88.2 L68 88.2 L65.6 88.6 L63.8 89.3 L63 90.1M65.9 98.8 L59.7 99.4M48.3 91.6 L46.4 91 L43.9 90.8 L41.2 90.8 L41.2 90.8 L38.7 91.2 L36.7 91.7 L35.5 92.5M34.8 101.2 L28.5 101.5M20.5 93.2 L18.8 92.6 L16.5 92.3 L13.8 92.2 L13.8 92.2 L11.2 92.4 L9 92.9 L7.6 93.5M3.2 102.1 L-3.2 102.1M-7.6 93.5 L-9 92.9 L-11.2 92.4 L-13.8 92.2 L-13.8 92.2 L-16.5 92.3 L-18.8 92.6 L-20.5 93.2M-28.5 101.5 L-34.8 101.2M-35.5 92.5 L-36.7 91.7 L-38.7 91.2 L-41.2 90.8 L-41.2 90.8 L-43.9 90.8 L-46.4 91 L-48.3 91.6M-59.7 99.4 L-65.9 98.8M-63 90.1 L-63.8 89.3 L-65.6 88.6 L-68 88.2 L-68 88.2 L-70.7 88 L-73.3 88.1 L-75.4 88.5M-90.1 95.9 L-96 95M-89.5 86.4 L-90.1 85.5 L-91.6 84.8 L-93.8 84.2 L-93.8 84.2 L-96.4 83.9 L-99.1 83.9 L-101.4 84.2M-119.2 91 L-124.8 89.8M-114.8 81.4 L-115 80.5 L-116.2 79.7 L-118.2 79 L-118.2 79 L-120.7 78.6 L-123.4 78.5 L-125.9 78.7M-146.5 84.7 L-151.7 83.3M-138.3 75.3 L-138.2 74.4 L-139.1 73.5 L-140.9 72.7 L-140.9 72.7 L-143.3 72.1 L-146 71.9 L-148.6 72M-171.7 77.2 L-176.4 75.6M-159.9 68 L-159.4 67.1 L-160 66.2 L-161.6 65.3 L-161.6 65.3 L-163.8 64.6 L-166.4 64.3 L-169.1 64.3M-194.4 68.6 L-198.6 66.8M-179.1 59.8 L-178.3 58.9 L-178.6 57.9 L-179.9 56.9 L-179.9 56.9 L-181.9 56.2 L-184.4 55.7 L-187.1 55.6M-214.2 59 L-217.9 56.9M-195.7 50.6 L-194.6 49.8 L-194.6 48.8 L-195.5 47.8 L-195.5 47.8 L-197.3 46.9 L-199.7 46.4M13.8 -92.2 L13.8 -92.2"/><path id="rb" d="M231.8 -8.3 L229.7 -7.6 L228.4 -6.7 L228.1 -5.6 L228.1 -5.6 L228.7 -4.5 L230.3 -3.6 L232.6 -3M232.6 3 L230.3 3.6 L228.7 4.5 L228.1 5.6 L228.1 5.6 L228.4 6.7 L229.7 7.6 L231.8 8.3M230 14.3 L227.5 14.8 L225.7 15.6 L224.8 16.6 L224.8 16.6 L224.8 17.7 L225.8 18.7 L227.6 19.4M224 25.3 L221.5 25.7 L219.4 26.5 L218.2 27.5 L218.2 27.5 L217.8 28.5 L218.5 29.5 L220.1 30.3M214.8 36 L212.1 36.3 L209.9 37 L208.4 37.9 L208.4 37.9 L207.7 38.9 L208.1 39.9 L209.4 40.8M202.4 46.2 L199.7 46.4"/></defs>
<use href="#bg" transform="translate(481.5 399) scale(1 0.389) rotate(1.318) scale(1 2.5707)" fill="#fff" stroke="#111" stroke-width="2.7" stroke-linejoin="round"/>
<use href="#ra" transform="translate(481.5 399) scale(1 0.389) rotate(1.318) scale(1 2.5707)" fill="none" stroke="#fff" stroke-width="4.2" stroke-linecap="butt" stroke-linejoin="round"/>
<use href="#ra" transform="translate(481.5 399) scale(1 0.389) rotate(1.318) scale(1 2.5707)" fill="none" stroke="#111" stroke-width="1" stroke-linejoin="round"/>
<use href="#bg" transform="translate(481.5 394.9) scale(1 0.389) rotate(1.216) scale(1 2.5707)" fill="#fff" stroke="#111" stroke-width="2.7" stroke-linejoin="round"/>
<use href="#ra" transform="translate(481.5 394.9) scale(1 0.389) rotate(1.216) scale(1 2.5707)" fill="none" stroke="#fff" stroke-width="4.2" stroke-linecap="butt" stroke-linejoin="round"/>
<use href="#bg" transform="translate(481.5 390.8) scale(1 0.389) rotate(1.115) scale(1 2.5707)" fill="#fff" stroke="#111" stroke-width="2.7" stroke-linejoin="round"/>
<use href="#ra" transform="translate(481.5 390.8) scale(1 0.389) rotate(1.115) scale(1 2.5707)" fill="none" stroke="#fff" stroke-width="4.2" stroke-linecap="butt" stroke-linejoin="round"/>
<use href="#bg" transform="translate(481.5 386.8) scale(1 0.389) rotate(1.014) scale(1 2.5707)" fill="#fff" stroke="#111" stroke-width="2.7" stroke-linejoin="round"/>
<use href="#ra" transform="translate(481.5 386.8) scale(1 0.389) rotate(1.014) scale(1 2.5707)" fill="none" stroke="#fff" stroke-width="4.2" stroke-linecap="butt" stroke-linejoin="round"/>
<use href="#bg" transform="translate(481.5 382.7) scale(1 0.389) rotate(0.912) scale(1 2.5707)" fill="#fff" stroke="#111" stroke-width="2.7" stroke-linejoin="round"/>
<use href="#ra" transform="translate(481.5 382.7) scale(1 0.389) rotate(0.912) scale(1 2.5707)" fill="none" stroke="#fff" stroke-width="4.2" stroke-linecap="butt" stroke-linejoin="round"/>
<use href="#bg" transform="translate(481.5 378.6) scale(1 0.389) rotate(0.811) scale(1 2.5707)" fill="#fff" stroke="#111" stroke-width="2.7" stroke-linejoin="round"/>
<use href="#ra" transform="translate(481.5 378.6) scale(1 0.389) rotate(0.811) scale(1 2.5707)" fill="none" stroke="#fff" stroke-width="4.2" stroke-linecap="butt" stroke-linejoin="round"/>
<use href="#bg" transform="translate(481.5 374.5) scale(1 0.389) rotate(0.710) scale(1 2.5707)" fill="#fff" stroke="#111" stroke-width="2.7" stroke-linejoin="round"/>
<use href="#ra" transform="translate(481.5 374.5) scale(1 0.389) rotate(0.710) scale(1 2.5707)" fill="none" stroke="#fff" stroke-width="4.2" stroke-linecap="butt" stroke-linejoin="round"/>
<use href="#bg" transform="translate(481.5 370.5) scale(1 0.389) rotate(0.608) scale(1 2.5707)" fill="#fff" stroke="#111" stroke-width="2.7" stroke-linejoin="round"/>
<use href="#ra" transform="translate(481.5 370.5) scale(1 0.389) rotate(0.608) scale(1 2.5707)" fill="none" stroke="#fff" stroke-width="4.2" stroke-linecap="butt" stroke-linejoin="round"/>
<use href="#bg" transform="translate(481.5 366.4) scale(1 0.389) rotate(0.507) scale(1 2.5707)" fill="#fff" stroke="#111" stroke-width="2.7" stroke-linejoin="round"/>
<use href="#ra" transform="translate(481.5 366.4) scale(1 0.389) rotate(0.507) scale(1 2.5707)" fill="none" stroke="#fff" stroke-width="4.2" stroke-linecap="butt" stroke-linejoin="round"/>
<use href="#bg" transform="translate(481.5 362.3) scale(1 0.389) rotate(0.405) scale(1 2.5707)" fill="#fff" stroke="#111" stroke-width="2.7" stroke-linejoin="round"/>
<use href="#ra" transform="translate(481.5 362.3) scale(1 0.389) rotate(0.405) scale(1 2.5707)" fill="none" stroke="#fff" stroke-width="4.2" stroke-linecap="butt" stroke-linejoin="round"/>
<use href="#bg" transform="translate(481.5 358.2) scale(1 0.389) rotate(0.304) scale(1 2.5707)" fill="#fff" stroke="#111" stroke-width="2.7" stroke-linejoin="round"/>
<use href="#ra" transform="translate(481.5 358.2) scale(1 0.389) rotate(0.304) scale(1 2.5707)" fill="none" stroke="#fff" stroke-width="4.2" stroke-linecap="butt" stroke-linejoin="round"/>
<use href="#rb" transform="translate(481.5 358.2) scale(1 0.389) rotate(0.304) scale(1 2.5707)" fill="none" stroke="#fff" stroke-width="4.2" stroke-linecap="butt" stroke-linejoin="round"/>
<use href="#bg" transform="translate(481.5 354.2) scale(1 0.389) rotate(0.203) scale(1 2.5707)" fill="#fff" stroke="#111" stroke-width="2.7" stroke-linejoin="round"/>
<use href="#ra" transform="translate(481.5 354.2) scale(1 0.389) rotate(0.203) scale(1 2.5707)" fill="none" stroke="#fff" stroke-width="4.2" stroke-linecap="butt" stroke-linejoin="round"/>
<use href="#rb" transform="translate(481.5 354.2) scale(1 0.389) rotate(0.203) scale(1 2.5707)" fill="none" stroke="#fff" stroke-width="4.2" stroke-linecap="butt" stroke-linejoin="round"/>
<use href="#bg" transform="translate(481.5 350.1) scale(1 0.389) rotate(0.101) scale(1 2.5707)" fill="#fff" stroke="#111" stroke-width="2.7" stroke-linejoin="round"/>
<use href="#ra" transform="translate(481.5 350.1) scale(1 0.389) rotate(0.101) scale(1 2.5707)" fill="none" stroke="#fff" stroke-width="4.2" stroke-linecap="butt" stroke-linejoin="round"/>
<use href="#rb" transform="translate(481.5 350.1) scale(1 0.389) rotate(0.101) scale(1 2.5707)" fill="none" stroke="#fff" stroke-width="4.2" stroke-linecap="butt" stroke-linejoin="round"/>
<path d="M728.2 380.9 L725.7 383.4 L723.4 438.6 L726 436.1Z" fill="#fff" stroke="#111" stroke-width="0.9" stroke-linejoin="round"/>
<path d="M715.5 392.3 L712.4 394.6 L709.4 449.6 L712.7 447.4Z" fill="#fff" stroke="#111" stroke-width="0.9" stroke-linejoin="round"/>
<path d="M699.4 402.9 L695.7 405 L692.1 459.9 L696 457.9Z" fill="#fff" stroke="#111" stroke-width="0.9" stroke-linejoin="round"/>
<path d="M680.1 412.8 L675.9 414.6 L671.8 469.4 L676.1 467.5Z" fill="#fff" stroke="#111" stroke-width="0.9" stroke-linejoin="round"/>
<path d="M657.9 421.6 L653.2 423.2 L648.6 477.8 L653.4 476.2Z" fill="#fff" stroke="#111" stroke-width="0.9" stroke-linejoin="round"/>
<path d="M633.2 429.3 L628 430.7 L622.9 485 L628.2 483.7Z" fill="#fff" stroke="#111" stroke-width="0.9" stroke-linejoin="round"/>
<path d="M606.3 435.8 L600.7 437 L595.3 491 L600.9 489.9Z" fill="#fff" stroke="#111" stroke-width="0.9" stroke-linejoin="round"/>
<path d="M577.5 441 L571.6 441.9 L565.9 495.7 L571.9 494.9Z" fill="#fff" stroke="#111" stroke-width="0.9" stroke-linejoin="round"/>
<path d="M547.4 444.8 L541.2 445.4 L535.3 498.9 L541.5 498.4Z" fill="#fff" stroke="#111" stroke-width="0.9" stroke-linejoin="round"/>
<path d="M516.3 447.2 L510 447.5 L504 500.7 L510.3 500.5Z" fill="#fff" stroke="#111" stroke-width="0.9" stroke-linejoin="round"/>
<path d="M484.7 448.1 L478.3 448.1 L472.3 501 L478.6 501.1Z" fill="#fff" stroke="#111" stroke-width="0.9" stroke-linejoin="round"/>
<path d="M453 447.5 L446.7 447.2 L440.7 499.9 L447 500.2Z" fill="#fff" stroke="#111" stroke-width="0.9" stroke-linejoin="round"/>
<path d="M421.8 445.4 L415.6 444.8 L409.8 497.2 L415.9 497.9Z" fill="#fff" stroke="#111" stroke-width="0.9" stroke-linejoin="round"/>
<path d="M391.4 441.9 L385.5 441 L379.9 493.1 L385.7 494.1Z" fill="#fff" stroke="#111" stroke-width="0.9" stroke-linejoin="round"/>
<path d="M362.3 437 L356.7 435.8 L351.4 487.7 L357 488.9Z" fill="#fff" stroke="#111" stroke-width="0.9" stroke-linejoin="round"/>
<path d="M335 430.7 L329.8 429.3 L324.9 481 L330 482.4Z" fill="#fff" stroke="#111" stroke-width="0.9" stroke-linejoin="round"/>
<path d="M309.8 423.2 L305.1 421.6 L300.6 473 L305.3 474.7Z" fill="#fff" stroke="#111" stroke-width="0.9" stroke-linejoin="round"/>
<path d="M287.1 414.6 L282.9 412.8 L279 464 L283.1 465.9Z" fill="#fff" stroke="#111" stroke-width="0.9" stroke-linejoin="round"/>
<path d="M267.3 405 L263.6 402.9 L260.3 454 L263.9 456.1Z" fill="#fff" stroke="#111" stroke-width="0.9" stroke-linejoin="round"/>
<path d="M250.6 394.6 L247.5 392.3 L244.8 443.2 L247.8 445.5Z" fill="#fff" stroke="#111" stroke-width="0.9" stroke-linejoin="round"/>
<path d="M237.3 383.4 L234.8 380.9 L232.8 431.7 L235.1 434.2Z" fill="#fff" stroke="#111" stroke-width="0.9" stroke-linejoin="round"/>
<use href="#bg" transform="translate(481.5 346) scale(1 0.389) rotate(0.000) scale(1 2.5707)" fill="#fff" stroke="#111" stroke-width="1.1" stroke-linejoin="round"/>
<g>
<path d="M449.4 389.4 A109.6 44.1 0 1 1 532.9 386.1" stroke="#1a1a1a" stroke-width="1.1" fill="none"/>
<path d="M532.9 386.1 A109.6 44.1 0 0 1 449.4 389.4" stroke="#1a1a1a" stroke-width="1.1" fill="none" stroke-dasharray="14 4"/>
<path d="M392 371.7 L396.7 369.2 L401.3 367.1 L406 365.2 L410.7 363.5 L415.3 362 L420 360.7 L424.7 359.5 L429.3 358.4 L434 357.4 L438.7 356.6 L443.3 355.8 L448 355.2" stroke="#1a1a1a" stroke-width="1.1" fill="none"/>
<path d="M551 363.1 L552.8 363.7 L554.5 364.3 L556.2 365 L558 365.7 L559.8 366.4 L561.5 367.1 L563.2 367.9 L565 368.7 L566.8 369.5 L568.5 370.4 L570.2 371.4 L572 372.4" stroke="#1a1a1a" stroke-width="1.1" fill="none"/>
<path d="M148.2 347 A48.8 26.5 0 1 0 113.2 339.9" stroke="#1a1a1a" stroke-width="1.1" fill="none"/>
<path d="M116.5 341.4 L109.4 339.7 L111.1 336.5Z" fill="#1a1a1a"/>
<path d="M147 329 L150 329.1 L153 329.2 L156 329.5 L159 329.9 L162 330.4 L165 331 L168 331.7 L171 332.6 L174 333.6 L177 334.8 L180 336.2 L183 337.9" stroke="#1a1a1a" stroke-width="1.1" fill="none"/>
<path d="M142.8 317.5 L94.2 46.7" stroke="#1a1a1a" stroke-width="1.1" fill="none"/><path d="M92 34.3 L97.7 54.6 L93.7 55.3Z" fill="#1a1a1a"/>
<path d="M163 318.3 L130.4 45.7" stroke="#1a1a1a" stroke-width="1.6" fill="none"/><path d="M129 33.8 L134.1 53.3 L128.7 54Z" fill="#1a1a1a"/>
<path d="M142.8 317.5 L111.8 51.4" stroke="#1a1a1a" stroke-width="2.1" fill="none" stroke-dasharray="3.6 2.8"/>
<path d="M163 318.3 L162.5 74" stroke="#1a1a1a" stroke-width="2.1" fill="none" stroke-dasharray="3.6 2.8"/>
<path d="M142.8 317.5 L226.9 444.3" stroke="#1a1a1a" stroke-width="1.1" fill="none"/><path d="M234.2 455.3 L220.2 438.2 L223.9 435.8Z" fill="#1a1a1a"/>
<path d="M163 318.3 L246.6 445.8" stroke="#1a1a1a" stroke-width="1.6" fill="none"/><path d="M253.8 456.8 L239.6 439.8 L243.9 437Z" fill="#1a1a1a"/>
<path d="M106 105 L231.9 50.6" stroke="#1a1a1a" stroke-width="1.5" fill="none"/><path d="M243.5 45.6 L225.3 56.3 L223.2 51.5Z" fill="#1a1a1a"/>
<path d="M106 105 L194.5 108.8" stroke="#1a1a1a" stroke-width="1.4" fill="none"/>
<path d="M106 105 L254.3 196.9" stroke="#1a1a1a" stroke-width="1.5" fill="none"/><path d="M265 203.5 L245.8 194.7 L248.5 190.2Z" fill="#1a1a1a"/>
<path d="M106 105 L133.9 147.8" stroke="#1a1a1a" stroke-width="1.2" fill="none"/>
<path d="M118.5 124.5 L124.9 131.1 L121.9 133Z" fill="#1a1a1a"/>
<path d="M152.4 224.7 L279 169.5" stroke="#1a1a1a" stroke-width="1.6" fill="none"/><path d="M290.6 164.5 L272.4 175.3 L270.3 170.5Z" fill="#1a1a1a"/>
<path d="M152.4 224.7 L240.9 227.4" stroke="#1a1a1a" stroke-width="1.5" fill="none"/>
<path d="M152.4 224.7 L298.8 315.7" stroke="#1a1a1a" stroke-width="1.8" fill="none"/><path d="M309.5 322.3 L290.3 313.4 L293 309Z" fill="#1a1a1a"/>
<path d="M152.4 224.7 L190 285.7" stroke="#1a1a1a" stroke-width="1.3" fill="none"/>
<path d="M482.3 346.5 L482.2 93.8" stroke="#1a1a1a" stroke-width="1.6" fill="none"/><path d="M482.2 81.8 L484.5 101.8 L479.9 101.8Z" fill="#1a1a1a"/>
<path d="M142.8 317.5 L621.8 359.6" stroke="#1a1a1a" stroke-width="1.7" fill="none"/>
<path d="M639.8 362 L667.4 363" stroke="#1a1a1a" stroke-width="1.4" fill="none"/><path d="M680 363.4 L658.9 365 L659.1 360.4Z" fill="#1a1a1a"/>
<path d="M482.3 346.5 L628.6 380.9" stroke="#1a1a1a" stroke-width="2.0" fill="none"/><path d="M640.9 383.8 L619.9 381.5 L621.1 376.5Z" fill="#1a1a1a"/>
<path d="M482.3 346.5 L609.9 277" stroke="#1a1a1a" stroke-width="2.0" fill="none"/><path d="M621 271 L603.8 283.3 L601.3 278.8Z" fill="#1a1a1a"/>
<path d="M482.3 346.5 L627.7 292.7" stroke="#1a1a1a" stroke-width="1.0" fill="none"/><path d="M639.5 288.3 L620.6 297.8 L619 293.3Z" fill="#1a1a1a"/>
<path d="M177.1 74.2 A77.5 77.5 0 0 1 183.4 108.4" stroke="#1a1a1a" stroke-width="0.9" fill="none" stroke-dasharray="5 2 1 2"/><path d="M177.1 74.2 L181 79.1 L178 80.4Z" fill="#1a1a1a"/><path d="M183.4 108.4 L182.1 102.3 L185.3 102.5Z" fill="#1a1a1a"/>
<path d="M210.6 199.4 A63.5 63.5 0 0 1 215.9 226.6" stroke="#1a1a1a" stroke-width="0.9" fill="none" stroke-dasharray="5 2 1 2"/>
<path d="M210.5 261 A68.5 68.5 0 0 1 189.7 282.1" stroke="#1a1a1a" stroke-width="0.9" fill="none"/><path d="M210.5 261 L208.7 266.9 L206 265.2Z" fill="#1a1a1a"/><path d="M189.7 282.1 L193.9 277.5 L195.6 280.2Z" fill="#1a1a1a"/>
<path d="M574.6 296.4 A105 105 0 0 1 580.8 310.1" stroke="#1a1a1a" stroke-width="0.9" fill="none" stroke-dasharray="5 2 1 2"/><path d="M574.6 296.4 L577.6 299.3 L575.3 300.5Z" fill="#1a1a1a"/><path d="M580.8 310.1 L578.2 306.8 L580.6 305.9Z" fill="#1a1a1a"/>
<path d="M617.7 359.1 A136 136 0 0 1 614.7 377.8" stroke="#1a1a1a" stroke-width="0.9" fill="none" stroke-dasharray="5 2 1 2"/><path d="M617.7 359.1 L618.6 363.2 L616.1 362.9Z" fill="#1a1a1a"/><path d="M614.7 377.8 L614.3 373.6 L616.8 374.2Z" fill="#1a1a1a"/>
<path d="M162.4 122 L145 123.4" stroke="#1a1a1a" stroke-width="1.0" fill="none" stroke-dasharray="4 2"/>
<path d="M139.7 123.8 L146.6 121.7 L146.8 124.9Z" fill="#1a1a1a"/>
<path d="M110.3 181.6 L140.3 177.4" stroke="#1a1a1a" stroke-width="1.0" fill="none"/>
<path d="M118.4 180.4 L112.7 182.8 L112.2 179.8Z" fill="#1a1a1a"/>
<path d="M126.6 179.3 L132.3 177 L132.7 180Z" fill="#1a1a1a"/>
<text x="7.5" y="72.4" font-size="32" font-style="italic">z</text>
<path d="M23.5 46 L23.5 52.5" stroke="#1a1a1a" stroke-width="1.4" fill="none"/>
<text x="22.3" y="79.2" font-size="19" font-style="italic">p</text>
<text x="36.6" y="72.8" font-size="30">(</text>
<text x="48" y="72.4" font-size="32" font-style="italic">z</text>
<path d="M65 46 L65 52.5" stroke="#1a1a1a" stroke-width="1.4" fill="none"/>
<text x="61" y="81" font-size="19">2</text>
<text x="74.1" y="72.8" font-size="30">)</text>
<text x="141.8" y="28.5" font-size="32" font-style="italic">z</text>
<text x="156.6" y="35.3" font-size="19" font-style="italic">p</text>
<text x="170.9" y="28.9" font-size="30">(</text>
<text x="182.5" y="28.5" font-size="32" font-style="italic">z</text>
<text x="195.5" y="36.4" font-size="19">2</text>
<text x="208.3" y="28.9" font-size="30">)</text>
<text x="253" y="42.8" font-size="32" font-style="italic">x</text>
<path d="M271.3 17 L271.3 24.6" stroke="#1a1a1a" stroke-width="1.4" fill="none"/>
<text x="267.1" y="50.7" font-size="19">2</text>
<text x="206.1" y="102" font-size="27" font-style="italic">φ</text>
<text x="220.2" y="107.7" font-size="17">2</text>
<path d="M234.7 71 L232.4 77.3" stroke="#1a1a1a" stroke-width="1.8" fill="none"/>
<text x="176.3" y="136" font-size="26">Σ</text>
<text x="67.6" y="137.5" font-size="32" font-style="italic">o</text>
<path d="M86.8 111.4 L86.8 117.8" stroke="#1a1a1a" stroke-width="1.4" fill="none"/>
<text x="81.5" y="144.6" font-size="19">2</text>
<text x="77.8" y="196.4" font-size="23">Δ</text>
<text x="92.1" y="196.4" font-size="23">Σ</text>
<text x="298" y="144" font-size="32" font-style="italic">x</text>
<text x="311.1" y="152" font-size="19">2</text>
<text x="275.3" y="219" font-size="32" font-style="italic">y</text>
<path d="M292.4 194 L292.4 199.6" stroke="#1a1a1a" stroke-width="1.4" fill="none"/>
<text x="286.4" y="226.4" font-size="19">2</text>
<text x="230.3" y="264.5" font-size="25" font-style="italic">φ</text>
<text x="242.8" y="269.5" font-size="17">2</text>
<text x="319.6" y="319.6" font-size="32" font-style="italic">y</text>
<text x="332.1" y="328.4" font-size="19">2</text>
<text x="102.2" y="322.4" font-size="23">Δ</text>
<text x="116.5" y="322.4" font-size="25" font-style="italic">a</text>
<text x="117.3" y="356" font-size="31" font-style="italic">o</text>
<text x="134.1" y="362.4" font-size="19" font-style="italic">p</text>
<text x="495" y="110.6" font-size="32" font-style="italic">z</text>
<text x="510.1" y="111.7" font-size="30">(</text>
<text x="523.8" y="110.6" font-size="32" font-style="italic">z</text>
<text x="535.9" y="119.2" font-size="19">1</text>
<text x="546.5" y="111.7" font-size="30">)</text>
<text x="633.5" y="251" font-size="32" font-style="italic">y</text>
<text x="662.9" y="263.7" font-size="32" font-style="italic">y</text>
<text x="674.6" y="271" font-size="19">1</text>
<text x="563.4" y="343.3" font-size="26" font-style="italic">φ</text>
<text x="578.1" y="348.3" font-size="15">1</text>
<text x="626" y="345" font-size="32" font-style="italic">x</text>
<text x="641.1" y="345" font-size="30">(</text>
<text x="651.5" y="345" font-size="32" font-style="italic">x</text>
<text x="668.4" y="353.5" font-size="19" font-style="italic">p</text>
<text x="681.4" y="345" font-size="30">)</text>
<text x="643.7" y="390.3" font-size="26" font-style="italic">φ</text>
<text x="656.8" y="399" font-size="15">1</text>
<text x="594" y="410" font-size="32" font-style="italic">x</text>
<text x="606.1" y="418.4" font-size="19">1</text>
<text x="452.3" y="379.2" font-size="32" font-style="italic">o</text>
<text x="469.3" y="379.4" font-size="30">(</text>
<text x="478.9" y="379.2" font-size="32" font-style="italic">o</text>
<text x="493.1" y="385.8" font-size="19">1</text>
<text x="500.7" y="379.4" font-size="30">)</text>
<text x="199.6" y="486.3" font-size="32" font-style="italic">y</text>
<path d="M215.6 460.6 L215.6 465" stroke="#1a1a1a" stroke-width="1.4" fill="none"/>
<text x="213.8" y="493.8" font-size="19" font-style="italic">p</text>
<text x="261.7" y="487.4" font-size="32" font-style="italic">y</text>
<text x="276.8" y="494.9" font-size="19" font-style="italic">p</text>
</g>
</svg>
</body></html>
